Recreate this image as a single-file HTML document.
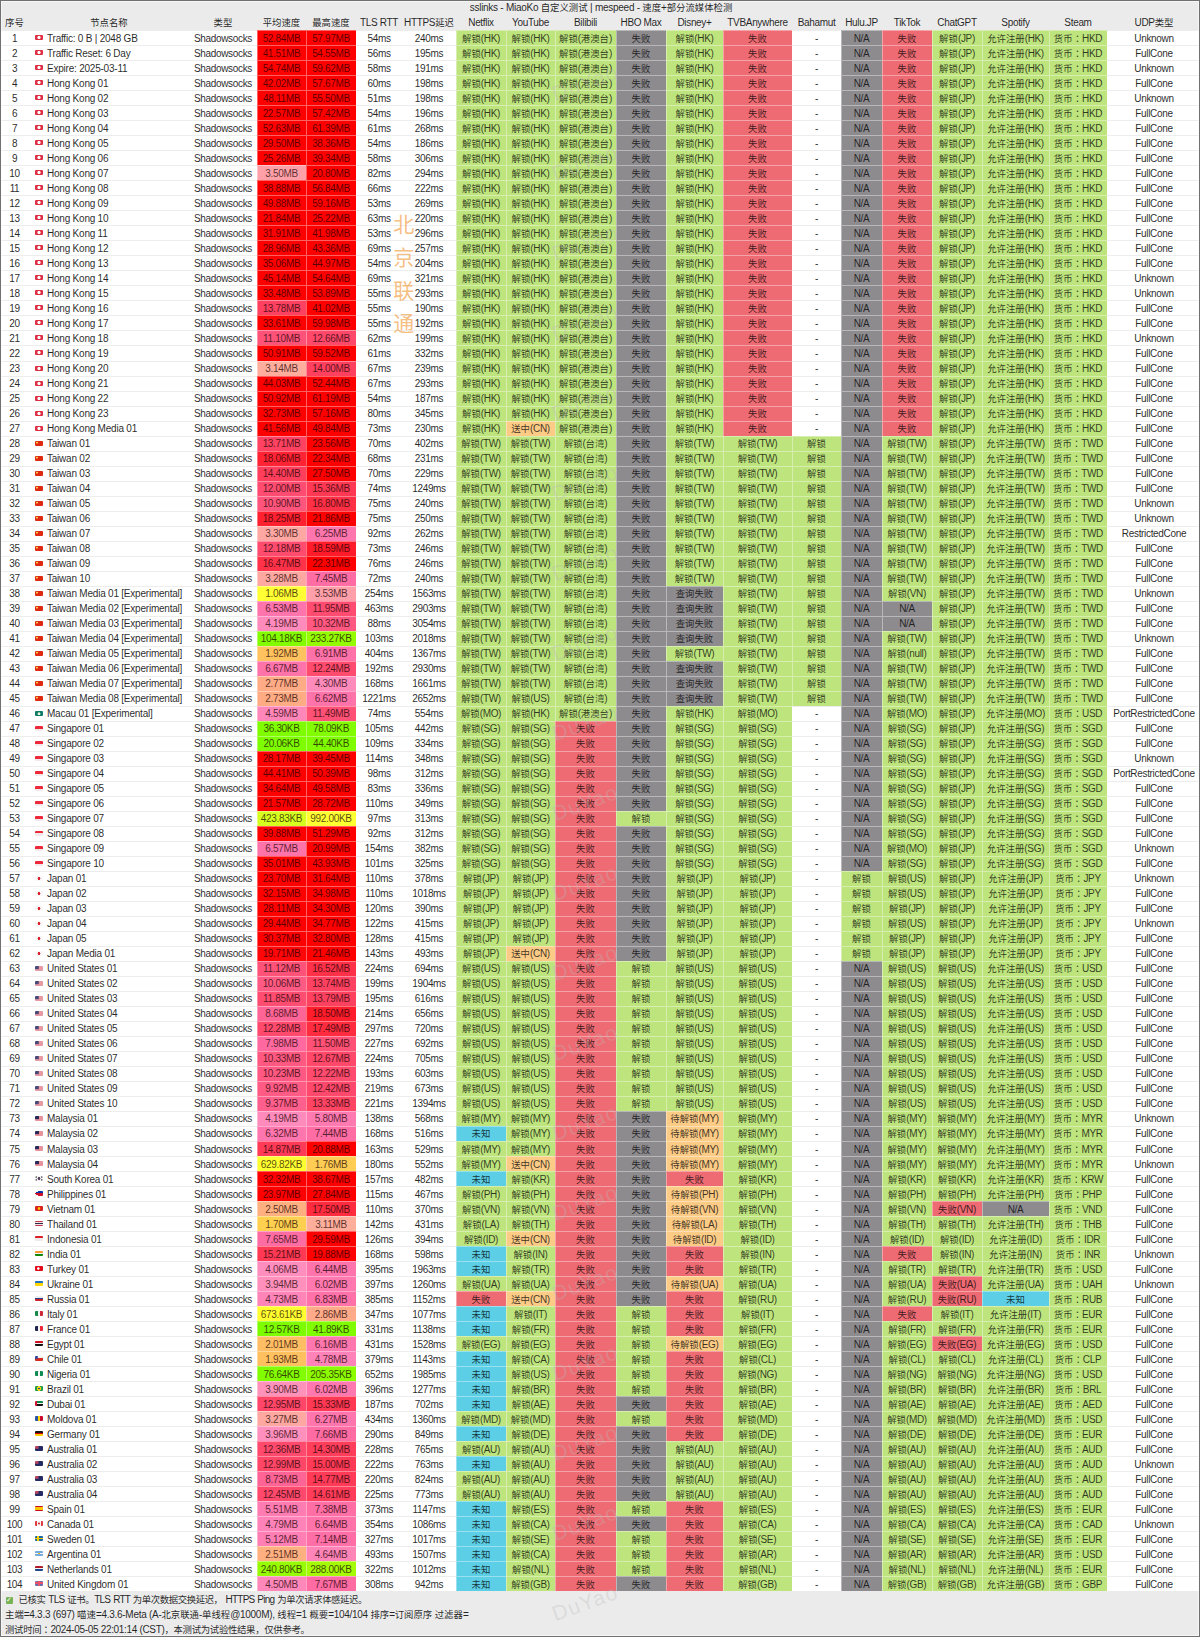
<!DOCTYPE html>
<html lang="zh-CN"><head><meta charset="utf-8"><title>sslinks - MiaoKo</title>
<style>
html,body{margin:0;padding:0}
u{text-decoration:none;font-size:9.4px;letter-spacing:0}
s{text-decoration:none;font-family:"Noto Sans CJK TC","Noto Sans CJK JP",sans-serif}
body{width:1200px;height:1637px;background:#ebebeb;position:relative;overflow:hidden;font-family:"Liberation Sans","Noto Sans CJK SC",sans-serif;font-size:10px;letter-spacing:-.33px;color:rgba(0,0,0,.86);-webkit-font-smoothing:antialiased}
#frame{position:absolute;left:0;top:0;width:1198px;height:1635px;border:1px solid #707070;box-shadow:inset 0 0 0 1px rgba(255,255,255,.55);z-index:9;pointer-events:none}
.t{position:absolute;left:1px;width:1200px;text-align:center;white-space:nowrap;letter-spacing:-.27px}
.r{position:absolute;left:0;width:1200px;background:#fff;white-space:nowrap}
.r i,.hd i{position:absolute;top:0;height:100%;font-style:normal;text-align:center;box-sizing:border-box;overflow:hidden}
.r i{border-top:1px solid #ededed}
.r i.g,.r i.n,.r i.r,.r i.o,.r i.b,.r i.s{border-top:1px solid rgba(255,255,255,.38);box-shadow:inset 1px 0 0 rgba(255,255,255,.38)}
.hd{position:absolute;left:0;width:1200px;white-space:nowrap}
.g{background:#bee47e}.n{background:#8d8b8e}.r i.r{background:#ee6b73}.o{background:#fccb86}.b{background:#5ccfe6}
.r i.g,.r i.n,.r i.r,.r i.o,.r i.b{color:rgba(0,0,0,.76)}.r i.s{color:rgba(20,0,0,.72)}
.nm{text-align:left!important}
.nm em{position:absolute;left:6px;top:3.7px;width:7.5px;height:5.6px;border-radius:1px;font-style:normal;overflow:hidden}
.nm span{position:absolute;left:18px;letter-spacing:-.22px}
.ft{position:absolute;left:5px;white-space:nowrap}


.f-hk{background:radial-gradient(circle at 50% 50%,#fff 0,#fff 1.2px,rgba(255,255,255,0) 2px),#dd2e44}
.f-cn{background:radial-gradient(circle at 24% 32%,#ffcc4d 0,#ffcc4d .6px,rgba(255,204,77,0) 1.3px),#de2910}
.f-mo{background:radial-gradient(circle at 50% 55%,#e8f5d8 0,#e8f5d8 1px,rgba(232,245,216,0) 1.8px),#0f7b68}
.f-sg{background:linear-gradient(#ed2939 50%,#f3e9ea 50%)}
.f-jp{background:radial-gradient(circle at 50% 50%,#d8202f 0,#d8202f 1.1px,rgba(216,32,47,0) 1.7px),#f8f8f8}
.f-us{background:linear-gradient(#4a4a78,#4a4a78) 0 0/3.8px 3.2px no-repeat,#e89aa4}
.f-my{background:linear-gradient(#2a2a58,#2a2a58) 0 0/4px 3.2px no-repeat,#e8929c}
.f-kr{background:radial-gradient(circle at 50% 50%,#5a4060 0,#5a4060 1.1px,rgba(90,64,96,0) 1.8px),radial-gradient(circle at 16% 22%,#777 0,#777 .5px,rgba(119,119,119,0) 1.2px),radial-gradient(circle at 84% 22%,#777 0,#777 .5px,rgba(119,119,119,0) 1.2px),radial-gradient(circle at 16% 78%,#777 0,#777 .5px,rgba(119,119,119,0) 1.2px),radial-gradient(circle at 84% 78%,#777 0,#777 .5px,rgba(119,119,119,0) 1.2px),#f4f4f4}
.f-ph{background:linear-gradient(148deg,#f4f4f4 0,#f4f4f4 24%,rgba(255,255,255,0) 24%),linear-gradient(32deg,#f4f4f4 0,#f4f4f4 24%,rgba(255,255,255,0) 24%),linear-gradient(#0038a8 50%,#ce1126 50%)}
.f-vn{background:radial-gradient(circle,#ffcd00 0,#ffcd00 .9px,rgba(255,205,0,0) 1.6px),#da251d}
.f-th{background:linear-gradient(#c4384f 0,#c4384f 17%,#f2e4e6 17%,#f2e4e6 33%,#2d2a4a 33%,#2d2a4a 67%,#f2e4e6 67%,#f2e4e6 83%,#c4384f 83%)}
.f-id{background:linear-gradient(#dc1f26 50%,#f0eaea 50%)}
.f-in{background:linear-gradient(#f93 33%,#f4f4f4 33%,#f4f4f4 67%,#138808 67%)}
.f-tr{background:radial-gradient(circle at 42% 50%,#fff 0,#fff .9px,rgba(255,255,255,0) 1.6px),#e30a17}
.f-ua{background:linear-gradient(#1f6fc5 50%,#ffd500 50%)}
.f-ru{background:linear-gradient(#eee 33%,#22408c 33%,#22408c 67%,#ce2028 67%)}
.f-it{background:linear-gradient(90deg,#178a4a 33%,#f4f4f4 33%,#f4f4f4 67%,#ce2b37 67%)}
.f-fr{background:linear-gradient(90deg,#20264d 33%,#f4f4f4 33%,#f4f4f4 67%,#ed2939 67%)}
.f-eg{background:linear-gradient(#ce1126 33%,#f4f4f4 33%,#f4f4f4 67%,#141414 67%)}
.f-cl{background:linear-gradient(#2a47a0,#2a47a0) 0 0/2.8px 2.8px no-repeat,linear-gradient(#f2f2f2 50%,#d52b1e 50%)}
.f-ng{background:linear-gradient(90deg,#128a54 33%,#f4f4f4 33%,#f4f4f4 67%,#128a54 67%)}
.f-br{background:radial-gradient(circle,#2a3f8f 0,#2a3f8f .8px,#f7d417 .9px,#f7d417 2.1px,rgba(247,212,23,0) 2.5px),#229e45}
.f-ae{background:linear-gradient(#d21034,#d21034) 0 0/2px 100% no-repeat,linear-gradient(#0b8a43 33%,#f4f4f4 33%,#f4f4f4 67%,#141414 67%)}
.f-md{background:linear-gradient(90deg,#2a55a5 33%,#ffd200 33%,#ffd200 67%,#cc092f 67%)}
.f-de{background:linear-gradient(#141414 33%,#d00 33%,#d00 67%,#ffce00 67%)}
.f-au{background:linear-gradient(#b5435e,#b5435e) 0 0/3.5px 2.8px no-repeat,#232a64}
.f-es{background:linear-gradient(#c60b1e 25%,#ffc400 25%,#ffc400 75%,#c60b1e 75%)}
.f-ca{background:radial-gradient(circle,#e03a3e 0,#e03a3e .8px,rgba(224,58,62,0) 1.3px),linear-gradient(90deg,#e03a3e 27%,#f4f4f4 27%,#f4f4f4 73%,#e03a3e 73%)}
.f-se{background:linear-gradient(90deg,rgba(0,0,0,0) 30%,#fecc00 30%,#fecc00 48%,rgba(0,0,0,0) 48%),linear-gradient(rgba(0,0,0,0) 38%,#fecc00 38%,#fecc00 62%,rgba(0,0,0,0) 62%),#1b6aa5}
.f-ar{background:radial-gradient(circle,#f6b40e 0,#f6b40e .5px,rgba(246,180,14,0) 1px),linear-gradient(#74acdf 33%,#f4f4f4 33%,#f4f4f4 67%,#74acdf 67%)}
.f-nl{background:linear-gradient(#ae1c28 33%,#f4f4f4 33%,#f4f4f4 67%,#21468b 67%)}
.f-gb{background:linear-gradient(90deg,rgba(0,0,0,0) 34%,#e8536a 34%,#e8536a 66%,rgba(0,0,0,0) 66%),linear-gradient(rgba(0,0,0,0) 30%,#e8536a 30%,#e8536a 70%,rgba(0,0,0,0) 70%),#6a6fae}
.wm{position:absolute;font-size:21px;color:rgba(185,185,185,.33);transform:rotate(-20deg);transform-origin:0 100%;white-space:nowrap;z-index:5;letter-spacing:1.2px}
.ck{display:inline-block;width:7px;height:7px;line-height:7px;font-size:7px;font-weight:normal;letter-spacing:0;background:#77b255;color:#fff;border-radius:1px;text-align:center;font-family:'DejaVu Sans',sans-serif;vertical-align:0;margin:0 6px 0 .5px;position:relative;top:-1.5px}
#f1{letter-spacing:-.74px;word-spacing:.8px}#f2{letter-spacing:-.28px}#f1 u{letter-spacing:-.4px}#f3 u{letter-spacing:-.3px}
.bj{position:absolute;left:393px;top:208px;width:21px;font-size:21px;line-height:33px;color:rgba(240,150,50,.62);z-index:6;text-align:center}

.c0{left:0.0px;width:29.0px}
.c1{left:29.0px;width:160.0px}
.c2{left:189.0px;width:68.0px}
.c3{left:257.0px;width:49.0px}
.c4{left:306.0px;width:50.0px}
.c5{left:356.0px;width:46.0px}
.c6{left:402.0px;width:54.0px}
.c7{left:456.0px;width:50.0px}
.c8{left:506.0px;width:49.0px}
.c9{left:555.0px;width:61.0px}
.c10{left:616.0px;width:50.0px}
.c11{left:666.0px;width:57.0px}
.c12{left:723.0px;width:69.0px}
.c13{left:792.0px;width:49.0px}
.c14{left:841.0px;width:41.0px}
.c15{left:882.0px;width:50.0px}
.c16{left:932.0px;width:50.0px}
.c17{left:982.0px;width:67.0px}
.c18{left:1049.0px;width:58.0px}
.c19{left:1107.0px;width:94.0px}
</style></head><body>
<div id="frame"></div>
<div class="t" style="top:0;height:15px;line-height:15px">sslinks - MiaoKo <u>自定义测试</u> | mespeed - <u>速度</u>+<u>部分流媒体检测</u></div>
<div class="hd" style="top:15px;height:15px;line-height:16px"><i class="c0"><u>序号</u></i><i class="c1"><u>节点名称</u></i><i class="c2"><u>类型</u></i><i class="c3"><u>平均速度</u></i><i class="c4"><u>最高速度</u></i><i class="c5">TLS RTT</i><i class="c6">HTTPS<u>延迟</u></i><i class="c7">Netflix</i><i class="c8">YouTube</i><i class="c9">Bilibili</i><i class="c10">HBO Max</i><i class="c11">Disney+</i><i class="c12">TVBAnywhere</i><i class="c13">Bahamut</i><i class="c14">Hulu.JP</i><i class="c15">TikTok</i><i class="c16">ChatGPT</i><i class="c17">Spotify</i><i class="c18">Steam</i><i class="c19">UDP<u>类型</u></i></div>
<div class="r" style="top:30px;height:15px;line-height:15px"><i class="c0">1</i><i class="c1 nm"><em class="f-hk"></em><span>Traffic: 0 B | 2048 GB</span></i><i class="c2">Shadowsocks</i><i class="c3 s" style="background:#ff0000">52.84MB</i><i class="c4 s" style="background:#ff0000">57.97MB</i><i class="c5">54ms</i><i class="c6">240ms</i><i class="c7 g"><u>解锁</u>(HK)</i><i class="c8 g"><u>解锁</u>(HK)</i><i class="c9 g"><u>解锁</u>(<u>港澳台</u>)</i><i class="c10 n"><u>失败</u></i><i class="c11 g"><u>解锁</u>(HK)</i><i class="c12 r"><u>失败</u></i><i class="c13">-</i><i class="c14 n">N/A</i><i class="c15 r"><u>失败</u></i><i class="c16 g"><u>解锁</u>(JP)</i><i class="c17 g"><u>允许注册</u>(HK)</i><i class="c18 g"><u>货币<s lang="zh-TW">：</s></u>HKD</i><i class="c19">Unknown</i></div>
<div class="r" style="top:45px;height:15px;line-height:15px"><i class="c0">2</i><i class="c1 nm"><em class="f-hk"></em><span>Traffic Reset: 6 Day</span></i><i class="c2">Shadowsocks</i><i class="c3 s" style="background:#ff0000">41.51MB</i><i class="c4 s" style="background:#ff0000">54.55MB</i><i class="c5">56ms</i><i class="c6">195ms</i><i class="c7 g"><u>解锁</u>(HK)</i><i class="c8 g"><u>解锁</u>(HK)</i><i class="c9 g"><u>解锁</u>(<u>港澳台</u>)</i><i class="c10 n"><u>失败</u></i><i class="c11 g"><u>解锁</u>(HK)</i><i class="c12 r"><u>失败</u></i><i class="c13">-</i><i class="c14 n">N/A</i><i class="c15 r"><u>失败</u></i><i class="c16 g"><u>解锁</u>(JP)</i><i class="c17 g"><u>允许注册</u>(HK)</i><i class="c18 g"><u>货币<s lang="zh-TW">：</s></u>HKD</i><i class="c19">FullCone</i></div>
<div class="r" style="top:60px;height:15px;line-height:15px"><i class="c0">3</i><i class="c1 nm"><em class="f-hk"></em><span>Expire: 2025-03-11</span></i><i class="c2">Shadowsocks</i><i class="c3 s" style="background:#ff0000">54.74MB</i><i class="c4 s" style="background:#ff0000">59.62MB</i><i class="c5">58ms</i><i class="c6">191ms</i><i class="c7 g"><u>解锁</u>(HK)</i><i class="c8 g"><u>解锁</u>(HK)</i><i class="c9 g"><u>解锁</u>(<u>港澳台</u>)</i><i class="c10 n"><u>失败</u></i><i class="c11 g"><u>解锁</u>(HK)</i><i class="c12 r"><u>失败</u></i><i class="c13">-</i><i class="c14 n">N/A</i><i class="c15 r"><u>失败</u></i><i class="c16 g"><u>解锁</u>(JP)</i><i class="c17 g"><u>允许注册</u>(HK)</i><i class="c18 g"><u>货币<s lang="zh-TW">：</s></u>HKD</i><i class="c19">Unknown</i></div>
<div class="r" style="top:75px;height:15px;line-height:15px"><i class="c0">4</i><i class="c1 nm"><em class="f-hk"></em><span>Hong Kong 01</span></i><i class="c2">Shadowsocks</i><i class="c3 s" style="background:#ff0000">42.02MB</i><i class="c4 s" style="background:#ff0000">57.67MB</i><i class="c5">60ms</i><i class="c6">198ms</i><i class="c7 g"><u>解锁</u>(HK)</i><i class="c8 g"><u>解锁</u>(HK)</i><i class="c9 g"><u>解锁</u>(<u>港澳台</u>)</i><i class="c10 n"><u>失败</u></i><i class="c11 g"><u>解锁</u>(HK)</i><i class="c12 r"><u>失败</u></i><i class="c13">-</i><i class="c14 n">N/A</i><i class="c15 r"><u>失败</u></i><i class="c16 g"><u>解锁</u>(JP)</i><i class="c17 g"><u>允许注册</u>(HK)</i><i class="c18 g"><u>货币<s lang="zh-TW">：</s></u>HKD</i><i class="c19">FullCone</i></div>
<div class="r" style="top:90px;height:15px;line-height:15px"><i class="c0">5</i><i class="c1 nm"><em class="f-hk"></em><span>Hong Kong 02</span></i><i class="c2">Shadowsocks</i><i class="c3 s" style="background:#ff0000">48.11MB</i><i class="c4 s" style="background:#ff0000">55.50MB</i><i class="c5">51ms</i><i class="c6">198ms</i><i class="c7 g"><u>解锁</u>(HK)</i><i class="c8 g"><u>解锁</u>(HK)</i><i class="c9 g"><u>解锁</u>(<u>港澳台</u>)</i><i class="c10 n"><u>失败</u></i><i class="c11 g"><u>解锁</u>(HK)</i><i class="c12 r"><u>失败</u></i><i class="c13">-</i><i class="c14 n">N/A</i><i class="c15 r"><u>失败</u></i><i class="c16 g"><u>解锁</u>(JP)</i><i class="c17 g"><u>允许注册</u>(HK)</i><i class="c18 g"><u>货币<s lang="zh-TW">：</s></u>HKD</i><i class="c19">Unknown</i></div>
<div class="r" style="top:105px;height:15px;line-height:15px"><i class="c0">6</i><i class="c1 nm"><em class="f-hk"></em><span>Hong Kong 03</span></i><i class="c2">Shadowsocks</i><i class="c3 s" style="background:#ff0000">22.57MB</i><i class="c4 s" style="background:#ff0000">57.42MB</i><i class="c5">54ms</i><i class="c6">196ms</i><i class="c7 g"><u>解锁</u>(HK)</i><i class="c8 g"><u>解锁</u>(HK)</i><i class="c9 g"><u>解锁</u>(<u>港澳台</u>)</i><i class="c10 n"><u>失败</u></i><i class="c11 g"><u>解锁</u>(HK)</i><i class="c12 r"><u>失败</u></i><i class="c13">-</i><i class="c14 n">N/A</i><i class="c15 r"><u>失败</u></i><i class="c16 g"><u>解锁</u>(JP)</i><i class="c17 g"><u>允许注册</u>(HK)</i><i class="c18 g"><u>货币<s lang="zh-TW">：</s></u>HKD</i><i class="c19">FullCone</i></div>
<div class="r" style="top:120px;height:15px;line-height:15px"><i class="c0">7</i><i class="c1 nm"><em class="f-hk"></em><span>Hong Kong 04</span></i><i class="c2">Shadowsocks</i><i class="c3 s" style="background:#ff0000">52.63MB</i><i class="c4 s" style="background:#ff0000">61.39MB</i><i class="c5">61ms</i><i class="c6">268ms</i><i class="c7 g"><u>解锁</u>(HK)</i><i class="c8 g"><u>解锁</u>(HK)</i><i class="c9 g"><u>解锁</u>(<u>港澳台</u>)</i><i class="c10 n"><u>失败</u></i><i class="c11 g"><u>解锁</u>(HK)</i><i class="c12 r"><u>失败</u></i><i class="c13">-</i><i class="c14 n">N/A</i><i class="c15 r"><u>失败</u></i><i class="c16 g"><u>解锁</u>(JP)</i><i class="c17 g"><u>允许注册</u>(HK)</i><i class="c18 g"><u>货币<s lang="zh-TW">：</s></u>HKD</i><i class="c19">FullCone</i></div>
<div class="r" style="top:135px;height:15px;line-height:15px"><i class="c0">8</i><i class="c1 nm"><em class="f-hk"></em><span>Hong Kong 05</span></i><i class="c2">Shadowsocks</i><i class="c3 s" style="background:#ff0000">29.50MB</i><i class="c4 s" style="background:#ff0000">38.36MB</i><i class="c5">54ms</i><i class="c6">186ms</i><i class="c7 g"><u>解锁</u>(HK)</i><i class="c8 g"><u>解锁</u>(HK)</i><i class="c9 g"><u>解锁</u>(<u>港澳台</u>)</i><i class="c10 n"><u>失败</u></i><i class="c11 g"><u>解锁</u>(HK)</i><i class="c12 r"><u>失败</u></i><i class="c13">-</i><i class="c14 n">N/A</i><i class="c15 r"><u>失败</u></i><i class="c16 g"><u>解锁</u>(JP)</i><i class="c17 g"><u>允许注册</u>(HK)</i><i class="c18 g"><u>货币<s lang="zh-TW">：</s></u>HKD</i><i class="c19">FullCone</i></div>
<div class="r" style="top:150px;height:15px;line-height:15px"><i class="c0">9</i><i class="c1 nm"><em class="f-hk"></em><span>Hong Kong 06</span></i><i class="c2">Shadowsocks</i><i class="c3 s" style="background:#ff0000">25.26MB</i><i class="c4 s" style="background:#ff0000">39.34MB</i><i class="c5">58ms</i><i class="c6">306ms</i><i class="c7 g"><u>解锁</u>(HK)</i><i class="c8 g"><u>解锁</u>(HK)</i><i class="c9 g"><u>解锁</u>(<u>港澳台</u>)</i><i class="c10 n"><u>失败</u></i><i class="c11 g"><u>解锁</u>(HK)</i><i class="c12 r"><u>失败</u></i><i class="c13">-</i><i class="c14 n">N/A</i><i class="c15 r"><u>失败</u></i><i class="c16 g"><u>解锁</u>(JP)</i><i class="c17 g"><u>允许注册</u>(HK)</i><i class="c18 g"><u>货币<s lang="zh-TW">：</s></u>HKD</i><i class="c19">FullCone</i></div>
<div class="r" style="top:165px;height:15px;line-height:15px"><i class="c0">10</i><i class="c1 nm"><em class="f-hk"></em><span>Hong Kong 07</span></i><i class="c2">Shadowsocks</i><i class="c3 s" style="background:#ffa0a8">3.50MB</i><i class="c4 s" style="background:#ff0000">20.80MB</i><i class="c5">82ms</i><i class="c6">294ms</i><i class="c7 g"><u>解锁</u>(HK)</i><i class="c8 g"><u>解锁</u>(HK)</i><i class="c9 g"><u>解锁</u>(<u>港澳台</u>)</i><i class="c10 n"><u>失败</u></i><i class="c11 g"><u>解锁</u>(HK)</i><i class="c12 r"><u>失败</u></i><i class="c13">-</i><i class="c14 n">N/A</i><i class="c15 r"><u>失败</u></i><i class="c16 g"><u>解锁</u>(JP)</i><i class="c17 g"><u>允许注册</u>(HK)</i><i class="c18 g"><u>货币<s lang="zh-TW">：</s></u>HKD</i><i class="c19">FullCone</i></div>
<div class="r" style="top:180px;height:15px;line-height:15px"><i class="c0">11</i><i class="c1 nm"><em class="f-hk"></em><span>Hong Kong 08</span></i><i class="c2">Shadowsocks</i><i class="c3 s" style="background:#ff0000">38.88MB</i><i class="c4 s" style="background:#ff0000">56.84MB</i><i class="c5">66ms</i><i class="c6">222ms</i><i class="c7 g"><u>解锁</u>(HK)</i><i class="c8 g"><u>解锁</u>(HK)</i><i class="c9 g"><u>解锁</u>(<u>港澳台</u>)</i><i class="c10 n"><u>失败</u></i><i class="c11 g"><u>解锁</u>(HK)</i><i class="c12 r"><u>失败</u></i><i class="c13">-</i><i class="c14 n">N/A</i><i class="c15 r"><u>失败</u></i><i class="c16 g"><u>解锁</u>(JP)</i><i class="c17 g"><u>允许注册</u>(HK)</i><i class="c18 g"><u>货币<s lang="zh-TW">：</s></u>HKD</i><i class="c19">FullCone</i></div>
<div class="r" style="top:195px;height:15px;line-height:15px"><i class="c0">12</i><i class="c1 nm"><em class="f-hk"></em><span>Hong Kong 09</span></i><i class="c2">Shadowsocks</i><i class="c3 s" style="background:#ff0000">49.88MB</i><i class="c4 s" style="background:#ff0000">59.16MB</i><i class="c5">53ms</i><i class="c6">269ms</i><i class="c7 g"><u>解锁</u>(HK)</i><i class="c8 g"><u>解锁</u>(HK)</i><i class="c9 g"><u>解锁</u>(<u>港澳台</u>)</i><i class="c10 n"><u>失败</u></i><i class="c11 g"><u>解锁</u>(HK)</i><i class="c12 r"><u>失败</u></i><i class="c13">-</i><i class="c14 n">N/A</i><i class="c15 r"><u>失败</u></i><i class="c16 g"><u>解锁</u>(JP)</i><i class="c17 g"><u>允许注册</u>(HK)</i><i class="c18 g"><u>货币<s lang="zh-TW">：</s></u>HKD</i><i class="c19">FullCone</i></div>
<div class="r" style="top:210px;height:15px;line-height:15px"><i class="c0">13</i><i class="c1 nm"><em class="f-hk"></em><span>Hong Kong 10</span></i><i class="c2">Shadowsocks</i><i class="c3 s" style="background:#ff0000">21.84MB</i><i class="c4 s" style="background:#ff0000">25.22MB</i><i class="c5">63ms</i><i class="c6">220ms</i><i class="c7 g"><u>解锁</u>(HK)</i><i class="c8 g"><u>解锁</u>(HK)</i><i class="c9 g"><u>解锁</u>(<u>港澳台</u>)</i><i class="c10 n"><u>失败</u></i><i class="c11 g"><u>解锁</u>(HK)</i><i class="c12 r"><u>失败</u></i><i class="c13">-</i><i class="c14 n">N/A</i><i class="c15 r"><u>失败</u></i><i class="c16 g"><u>解锁</u>(JP)</i><i class="c17 g"><u>允许注册</u>(HK)</i><i class="c18 g"><u>货币<s lang="zh-TW">：</s></u>HKD</i><i class="c19">FullCone</i></div>
<div class="r" style="top:225px;height:15px;line-height:15px"><i class="c0">14</i><i class="c1 nm"><em class="f-hk"></em><span>Hong Kong 11</span></i><i class="c2">Shadowsocks</i><i class="c3 s" style="background:#ff0000">31.91MB</i><i class="c4 s" style="background:#ff0000">41.98MB</i><i class="c5">53ms</i><i class="c6">296ms</i><i class="c7 g"><u>解锁</u>(HK)</i><i class="c8 g"><u>解锁</u>(HK)</i><i class="c9 g"><u>解锁</u>(<u>港澳台</u>)</i><i class="c10 n"><u>失败</u></i><i class="c11 g"><u>解锁</u>(HK)</i><i class="c12 r"><u>失败</u></i><i class="c13">-</i><i class="c14 n">N/A</i><i class="c15 r"><u>失败</u></i><i class="c16 g"><u>解锁</u>(JP)</i><i class="c17 g"><u>允许注册</u>(HK)</i><i class="c18 g"><u>货币<s lang="zh-TW">：</s></u>HKD</i><i class="c19">FullCone</i></div>
<div class="r" style="top:240px;height:15px;line-height:15px"><i class="c0">15</i><i class="c1 nm"><em class="f-hk"></em><span>Hong Kong 12</span></i><i class="c2">Shadowsocks</i><i class="c3 s" style="background:#ff0000">28.96MB</i><i class="c4 s" style="background:#ff0000">43.36MB</i><i class="c5">69ms</i><i class="c6">257ms</i><i class="c7 g"><u>解锁</u>(HK)</i><i class="c8 g"><u>解锁</u>(HK)</i><i class="c9 g"><u>解锁</u>(<u>港澳台</u>)</i><i class="c10 n"><u>失败</u></i><i class="c11 g"><u>解锁</u>(HK)</i><i class="c12 r"><u>失败</u></i><i class="c13">-</i><i class="c14 n">N/A</i><i class="c15 r"><u>失败</u></i><i class="c16 g"><u>解锁</u>(JP)</i><i class="c17 g"><u>允许注册</u>(HK)</i><i class="c18 g"><u>货币<s lang="zh-TW">：</s></u>HKD</i><i class="c19">FullCone</i></div>
<div class="r" style="top:255px;height:15px;line-height:15px"><i class="c0">16</i><i class="c1 nm"><em class="f-hk"></em><span>Hong Kong 13</span></i><i class="c2">Shadowsocks</i><i class="c3 s" style="background:#ff0000">35.06MB</i><i class="c4 s" style="background:#ff0000">44.97MB</i><i class="c5">54ms</i><i class="c6">204ms</i><i class="c7 g"><u>解锁</u>(HK)</i><i class="c8 g"><u>解锁</u>(HK)</i><i class="c9 g"><u>解锁</u>(<u>港澳台</u>)</i><i class="c10 n"><u>失败</u></i><i class="c11 g"><u>解锁</u>(HK)</i><i class="c12 r"><u>失败</u></i><i class="c13">-</i><i class="c14 n">N/A</i><i class="c15 r"><u>失败</u></i><i class="c16 g"><u>解锁</u>(JP)</i><i class="c17 g"><u>允许注册</u>(HK)</i><i class="c18 g"><u>货币<s lang="zh-TW">：</s></u>HKD</i><i class="c19">FullCone</i></div>
<div class="r" style="top:270px;height:15px;line-height:15px"><i class="c0">17</i><i class="c1 nm"><em class="f-hk"></em><span>Hong Kong 14</span></i><i class="c2">Shadowsocks</i><i class="c3 s" style="background:#ff0000">45.14MB</i><i class="c4 s" style="background:#ff0000">54.64MB</i><i class="c5">69ms</i><i class="c6">321ms</i><i class="c7 g"><u>解锁</u>(HK)</i><i class="c8 g"><u>解锁</u>(HK)</i><i class="c9 g"><u>解锁</u>(<u>港澳台</u>)</i><i class="c10 n"><u>失败</u></i><i class="c11 g"><u>解锁</u>(HK)</i><i class="c12 r"><u>失败</u></i><i class="c13">-</i><i class="c14 n">N/A</i><i class="c15 r"><u>失败</u></i><i class="c16 g"><u>解锁</u>(JP)</i><i class="c17 g"><u>允许注册</u>(HK)</i><i class="c18 g"><u>货币<s lang="zh-TW">：</s></u>HKD</i><i class="c19">Unknown</i></div>
<div class="r" style="top:285px;height:15px;line-height:15px"><i class="c0">18</i><i class="c1 nm"><em class="f-hk"></em><span>Hong Kong 15</span></i><i class="c2">Shadowsocks</i><i class="c3 s" style="background:#ff0000">33.48MB</i><i class="c4 s" style="background:#ff0000">53.89MB</i><i class="c5">55ms</i><i class="c6">293ms</i><i class="c7 g"><u>解锁</u>(HK)</i><i class="c8 g"><u>解锁</u>(HK)</i><i class="c9 g"><u>解锁</u>(<u>港澳台</u>)</i><i class="c10 n"><u>失败</u></i><i class="c11 g"><u>解锁</u>(HK)</i><i class="c12 r"><u>失败</u></i><i class="c13">-</i><i class="c14 n">N/A</i><i class="c15 r"><u>失败</u></i><i class="c16 g"><u>解锁</u>(JP)</i><i class="c17 g"><u>允许注册</u>(HK)</i><i class="c18 g"><u>货币<s lang="zh-TW">：</s></u>HKD</i><i class="c19">Unknown</i></div>
<div class="r" style="top:300px;height:15px;line-height:15px"><i class="c0">19</i><i class="c1 nm"><em class="f-hk"></em><span>Hong Kong 16</span></i><i class="c2">Shadowsocks</i><i class="c3 s" style="background:#ff4161">13.78MB</i><i class="c4 s" style="background:#ff0000">41.02MB</i><i class="c5">55ms</i><i class="c6">190ms</i><i class="c7 g"><u>解锁</u>(HK)</i><i class="c8 g"><u>解锁</u>(HK)</i><i class="c9 g"><u>解锁</u>(<u>港澳台</u>)</i><i class="c10 n"><u>失败</u></i><i class="c11 g"><u>解锁</u>(HK)</i><i class="c12 r"><u>失败</u></i><i class="c13">-</i><i class="c14 n">N/A</i><i class="c15 r"><u>失败</u></i><i class="c16 g"><u>解锁</u>(JP)</i><i class="c17 g"><u>允许注册</u>(HK)</i><i class="c18 g"><u>货币<s lang="zh-TW">：</s></u>HKD</i><i class="c19">FullCone</i></div>
<div class="r" style="top:315px;height:15px;line-height:15px"><i class="c0">20</i><i class="c1 nm"><em class="f-hk"></em><span>Hong Kong 17</span></i><i class="c2">Shadowsocks</i><i class="c3 s" style="background:#ff0000">33.61MB</i><i class="c4 s" style="background:#ff0000">59.98MB</i><i class="c5">55ms</i><i class="c6">192ms</i><i class="c7 g"><u>解锁</u>(HK)</i><i class="c8 g"><u>解锁</u>(HK)</i><i class="c9 g"><u>解锁</u>(<u>港澳台</u>)</i><i class="c10 n"><u>失败</u></i><i class="c11 g"><u>解锁</u>(HK)</i><i class="c12 r"><u>失败</u></i><i class="c13">-</i><i class="c14 n">N/A</i><i class="c15 r"><u>失败</u></i><i class="c16 g"><u>解锁</u>(JP)</i><i class="c17 g"><u>允许注册</u>(HK)</i><i class="c18 g"><u>货币<s lang="zh-TW">：</s></u>HKD</i><i class="c19">FullCone</i></div>
<div class="r" style="top:330px;height:15px;line-height:15px"><i class="c0">21</i><i class="c1 nm"><em class="f-hk"></em><span>Hong Kong 18</span></i><i class="c2">Shadowsocks</i><i class="c3 s" style="background:#ff5279">11.10MB</i><i class="c4 s" style="background:#ff486a">12.66MB</i><i class="c5">62ms</i><i class="c6">199ms</i><i class="c7 g"><u>解锁</u>(HK)</i><i class="c8 g"><u>解锁</u>(HK)</i><i class="c9 g"><u>解锁</u>(<u>港澳台</u>)</i><i class="c10 n"><u>失败</u></i><i class="c11 g"><u>解锁</u>(HK)</i><i class="c12 r"><u>失败</u></i><i class="c13">-</i><i class="c14 n">N/A</i><i class="c15 r"><u>失败</u></i><i class="c16 g"><u>解锁</u>(JP)</i><i class="c17 g"><u>允许注册</u>(HK)</i><i class="c18 g"><u>货币<s lang="zh-TW">：</s></u>HKD</i><i class="c19">Unknown</i></div>
<div class="r" style="top:345px;height:16px;line-height:15px"><i class="c0">22</i><i class="c1 nm"><em class="f-hk"></em><span>Hong Kong 19</span></i><i class="c2">Shadowsocks</i><i class="c3 s" style="background:#ff0000">50.91MB</i><i class="c4 s" style="background:#ff0000">59.52MB</i><i class="c5">61ms</i><i class="c6">332ms</i><i class="c7 g"><u>解锁</u>(HK)</i><i class="c8 g"><u>解锁</u>(HK)</i><i class="c9 g"><u>解锁</u>(<u>港澳台</u>)</i><i class="c10 n"><u>失败</u></i><i class="c11 g"><u>解锁</u>(HK)</i><i class="c12 r"><u>失败</u></i><i class="c13">-</i><i class="c14 n">N/A</i><i class="c15 r"><u>失败</u></i><i class="c16 g"><u>解锁</u>(JP)</i><i class="c17 g"><u>允许注册</u>(HK)</i><i class="c18 g"><u>货币<s lang="zh-TW">：</s></u>HKD</i><i class="c19">FullCone</i></div>
<div class="r" style="top:361px;height:15px;line-height:13px"><i class="c0">23</i><i class="c1 nm"><em class="f-hk"></em><span>Hong Kong 20</span></i><i class="c2">Shadowsocks</i><i class="c3 s" style="background:#ffad9d">3.14MB</i><i class="c4 s" style="background:#ff405f">14.00MB</i><i class="c5">67ms</i><i class="c6">239ms</i><i class="c7 g"><u>解锁</u>(HK)</i><i class="c8 g"><u>解锁</u>(HK)</i><i class="c9 g"><u>解锁</u>(<u>港澳台</u>)</i><i class="c10 n"><u>失败</u></i><i class="c11 g"><u>解锁</u>(HK)</i><i class="c12 r"><u>失败</u></i><i class="c13">-</i><i class="c14 n">N/A</i><i class="c15 r"><u>失败</u></i><i class="c16 g"><u>解锁</u>(JP)</i><i class="c17 g"><u>允许注册</u>(HK)</i><i class="c18 g"><u>货币<s lang="zh-TW">：</s></u>HKD</i><i class="c19">FullCone</i></div>
<div class="r" style="top:376px;height:15px;line-height:13px"><i class="c0">24</i><i class="c1 nm"><em class="f-hk"></em><span>Hong Kong 21</span></i><i class="c2">Shadowsocks</i><i class="c3 s" style="background:#ff0000">44.03MB</i><i class="c4 s" style="background:#ff0000">52.44MB</i><i class="c5">67ms</i><i class="c6">293ms</i><i class="c7 g"><u>解锁</u>(HK)</i><i class="c8 g"><u>解锁</u>(HK)</i><i class="c9 g"><u>解锁</u>(<u>港澳台</u>)</i><i class="c10 n"><u>失败</u></i><i class="c11 g"><u>解锁</u>(HK)</i><i class="c12 r"><u>失败</u></i><i class="c13">-</i><i class="c14 n">N/A</i><i class="c15 r"><u>失败</u></i><i class="c16 g"><u>解锁</u>(JP)</i><i class="c17 g"><u>允许注册</u>(HK)</i><i class="c18 g"><u>货币<s lang="zh-TW">：</s></u>HKD</i><i class="c19">FullCone</i></div>
<div class="r" style="top:391px;height:15px;line-height:13px"><i class="c0">25</i><i class="c1 nm"><em class="f-hk"></em><span>Hong Kong 22</span></i><i class="c2">Shadowsocks</i><i class="c3 s" style="background:#ff0000">50.92MB</i><i class="c4 s" style="background:#ff0000">61.19MB</i><i class="c5">54ms</i><i class="c6">187ms</i><i class="c7 g"><u>解锁</u>(HK)</i><i class="c8 g"><u>解锁</u>(HK)</i><i class="c9 g"><u>解锁</u>(<u>港澳台</u>)</i><i class="c10 n"><u>失败</u></i><i class="c11 g"><u>解锁</u>(HK)</i><i class="c12 r"><u>失败</u></i><i class="c13">-</i><i class="c14 n">N/A</i><i class="c15 r"><u>失败</u></i><i class="c16 g"><u>解锁</u>(JP)</i><i class="c17 g"><u>允许注册</u>(HK)</i><i class="c18 g"><u>货币<s lang="zh-TW">：</s></u>HKD</i><i class="c19">FullCone</i></div>
<div class="r" style="top:406px;height:15px;line-height:13px"><i class="c0">26</i><i class="c1 nm"><em class="f-hk"></em><span>Hong Kong 23</span></i><i class="c2">Shadowsocks</i><i class="c3 s" style="background:#ff0000">32.73MB</i><i class="c4 s" style="background:#ff0000">57.16MB</i><i class="c5">80ms</i><i class="c6">345ms</i><i class="c7 g"><u>解锁</u>(HK)</i><i class="c8 g"><u>解锁</u>(HK)</i><i class="c9 g"><u>解锁</u>(<u>港澳台</u>)</i><i class="c10 n"><u>失败</u></i><i class="c11 g"><u>解锁</u>(HK)</i><i class="c12 r"><u>失败</u></i><i class="c13">-</i><i class="c14 n">N/A</i><i class="c15 r"><u>失败</u></i><i class="c16 g"><u>解锁</u>(JP)</i><i class="c17 g"><u>允许注册</u>(HK)</i><i class="c18 g"><u>货币<s lang="zh-TW">：</s></u>HKD</i><i class="c19">FullCone</i></div>
<div class="r" style="top:421px;height:15px;line-height:13px"><i class="c0">27</i><i class="c1 nm"><em class="f-hk"></em><span>Hong Kong Media 01</span></i><i class="c2">Shadowsocks</i><i class="c3 s" style="background:#ff0000">41.56MB</i><i class="c4 s" style="background:#ff0000">49.84MB</i><i class="c5">73ms</i><i class="c6">230ms</i><i class="c7 g"><u>解锁</u>(HK)</i><i class="c8 o"><u>送中</u>(CN)</i><i class="c9 g"><u>解锁</u>(<u>港澳台</u>)</i><i class="c10 n"><u>失败</u></i><i class="c11 g"><u>解锁</u>(HK)</i><i class="c12 r"><u>失败</u></i><i class="c13">-</i><i class="c14 n">N/A</i><i class="c15 r"><u>失败</u></i><i class="c16 g"><u>解锁</u>(JP)</i><i class="c17 g"><u>允许注册</u>(HK)</i><i class="c18 g"><u>货币<s lang="zh-TW">：</s></u>HKD</i><i class="c19">FullCone</i></div>
<div class="r" style="top:436px;height:15px;line-height:13px"><i class="c0">28</i><i class="c1 nm"><em class="f-cn"></em><span>Taiwan 01</span></i><i class="c2">Shadowsocks</i><i class="c3 s" style="background:#ff4261">13.71MB</i><i class="c4 s" style="background:#ff0000">23.56MB</i><i class="c5">70ms</i><i class="c6">402ms</i><i class="c7 g"><u>解锁</u>(TW)</i><i class="c8 g"><u>解锁</u>(TW)</i><i class="c9 g"><u>解锁</u>(<u>台湾</u>)</i><i class="c10 n"><u>失败</u></i><i class="c11 g"><u>解锁</u>(TW)</i><i class="c12 g"><u>解锁</u>(TW)</i><i class="c13 g"><u>解锁</u></i><i class="c14 n">N/A</i><i class="c15 g"><u>解锁</u>(TW)</i><i class="c16 g"><u>解锁</u>(JP)</i><i class="c17 g"><u>允许注册</u>(TW)</i><i class="c18 g"><u>货币<s lang="zh-TW">：</s></u>TWD</i><i class="c19">FullCone</i></div>
<div class="r" style="top:451px;height:15px;line-height:13px"><i class="c0">29</i><i class="c1 nm"><em class="f-cn"></em><span>Taiwan 02</span></i><i class="c2">Shadowsocks</i><i class="c3 s" style="background:#ff2334">18.06MB</i><i class="c4 s" style="background:#ff0000">22.34MB</i><i class="c5">68ms</i><i class="c6">231ms</i><i class="c7 g"><u>解锁</u>(TW)</i><i class="c8 g"><u>解锁</u>(TW)</i><i class="c9 g"><u>解锁</u>(<u>台湾</u>)</i><i class="c10 n"><u>失败</u></i><i class="c11 g"><u>解锁</u>(TW)</i><i class="c12 g"><u>解锁</u>(TW)</i><i class="c13 g"><u>解锁</u></i><i class="c14 n">N/A</i><i class="c15 g"><u>解锁</u>(TW)</i><i class="c16 g"><u>解锁</u>(JP)</i><i class="c17 g"><u>允许注册</u>(TW)</i><i class="c18 g"><u>货币<s lang="zh-TW">：</s></u>TWD</i><i class="c19">FullCone</i></div>
<div class="r" style="top:466px;height:15px;line-height:13px"><i class="c0">30</i><i class="c1 nm"><em class="f-cn"></em><span>Taiwan 03</span></i><i class="c2">Shadowsocks</i><i class="c3 s" style="background:#ff3e5b">14.40MB</i><i class="c4 s" style="background:#ff0000">27.50MB</i><i class="c5">70ms</i><i class="c6">229ms</i><i class="c7 g"><u>解锁</u>(TW)</i><i class="c8 g"><u>解锁</u>(TW)</i><i class="c9 g"><u>解锁</u>(<u>台湾</u>)</i><i class="c10 n"><u>失败</u></i><i class="c11 g"><u>解锁</u>(TW)</i><i class="c12 g"><u>解锁</u>(TW)</i><i class="c13 g"><u>解锁</u></i><i class="c14 n">N/A</i><i class="c15 g"><u>解锁</u>(TW)</i><i class="c16 g"><u>解锁</u>(JP)</i><i class="c17 g"><u>允许注册</u>(TW)</i><i class="c18 g"><u>货币<s lang="zh-TW">：</s></u>TWD</i><i class="c19">FullCone</i></div>
<div class="r" style="top:481px;height:15px;line-height:13px"><i class="c0">31</i><i class="c1 nm"><em class="f-cn"></em><span>Taiwan 04</span></i><i class="c2">Shadowsocks</i><i class="c3 s" style="background:#ff4c70">12.00MB</i><i class="c4 s" style="background:#ff3853">15.36MB</i><i class="c5">74ms</i><i class="c6">1249ms</i><i class="c7 g"><u>解锁</u>(TW)</i><i class="c8 g"><u>解锁</u>(TW)</i><i class="c9 g"><u>解锁</u>(<u>台湾</u>)</i><i class="c10 n"><u>失败</u></i><i class="c11 g"><u>解锁</u>(TW)</i><i class="c12 g"><u>解锁</u>(TW)</i><i class="c13 g"><u>解锁</u></i><i class="c14 n">N/A</i><i class="c15 g"><u>解锁</u>(TW)</i><i class="c16 g"><u>解锁</u>(JP)</i><i class="c17 g"><u>允许注册</u>(TW)</i><i class="c18 g"><u>货币<s lang="zh-TW">：</s></u>TWD</i><i class="c19">FullCone</i></div>
<div class="r" style="top:496px;height:15px;line-height:13px"><i class="c0">32</i><i class="c1 nm"><em class="f-cn"></em><span>Taiwan 05</span></i><i class="c2">Shadowsocks</i><i class="c3 s" style="background:#ff547b">10.90MB</i><i class="c4 s" style="background:#ff3046">16.80MB</i><i class="c5">75ms</i><i class="c6">240ms</i><i class="c7 g"><u>解锁</u>(TW)</i><i class="c8 g"><u>解锁</u>(TW)</i><i class="c9 g"><u>解锁</u>(<u>台湾</u>)</i><i class="c10 n"><u>失败</u></i><i class="c11 g"><u>解锁</u>(TW)</i><i class="c12 g"><u>解锁</u>(TW)</i><i class="c13 g"><u>解锁</u></i><i class="c14 n">N/A</i><i class="c15 g"><u>解锁</u>(TW)</i><i class="c16 g"><u>解锁</u>(JP)</i><i class="c17 g"><u>允许注册</u>(TW)</i><i class="c18 g"><u>货币<s lang="zh-TW">：</s></u>TWD</i><i class="c19">Unknown</i></div>
<div class="r" style="top:511px;height:15px;line-height:13px"><i class="c0">33</i><i class="c1 nm"><em class="f-cn"></em><span>Taiwan 06</span></i><i class="c2">Shadowsocks</i><i class="c3 s" style="background:#ff2030">18.25MB</i><i class="c4 s" style="background:#ff0000">21.86MB</i><i class="c5">75ms</i><i class="c6">250ms</i><i class="c7 g"><u>解锁</u>(TW)</i><i class="c8 g"><u>解锁</u>(TW)</i><i class="c9 g"><u>解锁</u>(<u>台湾</u>)</i><i class="c10 n"><u>失败</u></i><i class="c11 g"><u>解锁</u>(TW)</i><i class="c12 g"><u>解锁</u>(TW)</i><i class="c13 g"><u>解锁</u></i><i class="c14 n">N/A</i><i class="c15 g"><u>解锁</u>(TW)</i><i class="c16 g"><u>解锁</u>(JP)</i><i class="c17 g"><u>允许注册</u>(TW)</i><i class="c18 g"><u>货币<s lang="zh-TW">：</s></u>TWD</i><i class="c19">Unknown</i></div>
<div class="r" style="top:526px;height:15px;line-height:13px"><i class="c0">34</i><i class="c1 nm"><em class="f-cn"></em><span>Taiwan 07</span></i><i class="c2">Shadowsocks</i><i class="c3 s" style="background:#ffa7a2">3.30MB</i><i class="c4 s" style="background:#ff76ae">6.25MB</i><i class="c5">92ms</i><i class="c6">262ms</i><i class="c7 g"><u>解锁</u>(TW)</i><i class="c8 g"><u>解锁</u>(TW)</i><i class="c9 g"><u>解锁</u>(<u>台湾</u>)</i><i class="c10 n"><u>失败</u></i><i class="c11 g"><u>解锁</u>(TW)</i><i class="c12 g"><u>解锁</u>(TW)</i><i class="c13 g"><u>解锁</u></i><i class="c14 n">N/A</i><i class="c15 g"><u>解锁</u>(TW)</i><i class="c16 g"><u>解锁</u>(JP)</i><i class="c17 g"><u>允许注册</u>(TW)</i><i class="c18 g"><u>货币<s lang="zh-TW">：</s></u>TWD</i><i class="c19">RestrictedCone</i></div>
<div class="r" style="top:541px;height:15px;line-height:13px"><i class="c0">35</i><i class="c1 nm"><em class="f-cn"></em><span>Taiwan 08</span></i><i class="c2">Shadowsocks</i><i class="c3 s" style="background:#ff4b6e">12.18MB</i><i class="c4 s" style="background:#ff1b29">18.59MB</i><i class="c5">73ms</i><i class="c6">246ms</i><i class="c7 g"><u>解锁</u>(TW)</i><i class="c8 g"><u>解锁</u>(TW)</i><i class="c9 g"><u>解锁</u>(<u>台湾</u>)</i><i class="c10 n"><u>失败</u></i><i class="c11 g"><u>解锁</u>(TW)</i><i class="c12 g"><u>解锁</u>(TW)</i><i class="c13 g"><u>解锁</u></i><i class="c14 n">N/A</i><i class="c15 g"><u>解锁</u>(TW)</i><i class="c16 g"><u>解锁</u>(JP)</i><i class="c17 g"><u>允许注册</u>(TW)</i><i class="c18 g"><u>货币<s lang="zh-TW">：</s></u>TWD</i><i class="c19">FullCone</i></div>
<div class="r" style="top:556px;height:15px;line-height:13px"><i class="c0">36</i><i class="c1 nm"><em class="f-cn"></em><span>Taiwan 09</span></i><i class="c2">Shadowsocks</i><i class="c3 s" style="background:#ff3249">16.47MB</i><i class="c4 s" style="background:#ff0000">22.31MB</i><i class="c5">76ms</i><i class="c6">246ms</i><i class="c7 g"><u>解锁</u>(TW)</i><i class="c8 g"><u>解锁</u>(TW)</i><i class="c9 g"><u>解锁</u>(<u>台湾</u>)</i><i class="c10 n"><u>失败</u></i><i class="c11 g"><u>解锁</u>(TW)</i><i class="c12 g"><u>解锁</u>(TW)</i><i class="c13 g"><u>解锁</u></i><i class="c14 n">N/A</i><i class="c15 g"><u>解锁</u>(TW)</i><i class="c16 g"><u>解锁</u>(JP)</i><i class="c17 g"><u>允许注册</u>(TW)</i><i class="c18 g"><u>货币<s lang="zh-TW">：</s></u>TWD</i><i class="c19">FullCone</i></div>
<div class="r" style="top:571px;height:15px;line-height:13px"><i class="c0">37</i><i class="c1 nm"><em class="f-cn"></em><span>Taiwan 10</span></i><i class="c2">Shadowsocks</i><i class="c3 s" style="background:#ffa8a1">3.28MB</i><i class="c4 s" style="background:#ff6da4">7.45MB</i><i class="c5">72ms</i><i class="c6">240ms</i><i class="c7 g"><u>解锁</u>(TW)</i><i class="c8 g"><u>解锁</u>(TW)</i><i class="c9 g"><u>解锁</u>(<u>台湾</u>)</i><i class="c10 n"><u>失败</u></i><i class="c11 g"><u>解锁</u>(TW)</i><i class="c12 g"><u>解锁</u>(TW)</i><i class="c13 g"><u>解锁</u></i><i class="c14 n">N/A</i><i class="c15 g"><u>解锁</u>(TW)</i><i class="c16 g"><u>解锁</u>(JP)</i><i class="c17 g"><u>允许注册</u>(TW)</i><i class="c18 g"><u>货币<s lang="zh-TW">：</s></u>TWD</i><i class="c19">FullCone</i></div>
<div class="r" style="top:586px;height:15px;line-height:13px"><i class="c0">38</i><i class="c1 nm"><em class="f-cn"></em><span>Taiwan Media 01 [Experimental]</span></i><i class="c2">Shadowsocks</i><i class="c3 s" style="background:#ffff33">1.06MB</i><i class="c4 s" style="background:#ff9fa9">3.53MB</i><i class="c5">254ms</i><i class="c6">1563ms</i><i class="c7 g"><u>解锁</u>(TW)</i><i class="c8 g"><u>解锁</u>(TW)</i><i class="c9 g"><u>解锁</u>(<u>台湾</u>)</i><i class="c10 n"><u>失败</u></i><i class="c11 n"><u>查询失败</u></i><i class="c12 g"><u>解锁</u>(TW)</i><i class="c13 g"><u>解锁</u></i><i class="c14 n">N/A</i><i class="c15 g"><u>解锁</u>(VN)</i><i class="c16 g"><u>解锁</u>(JP)</i><i class="c17 g"><u>允许注册</u>(TW)</i><i class="c18 g"><u>货币<s lang="zh-TW">：</s></u>TWD</i><i class="c19">Unknown</i></div>
<div class="r" style="top:601px;height:15px;line-height:13px"><i class="c0">39</i><i class="c1 nm"><em class="f-cn"></em><span>Taiwan Media 02 [Experimental]</span></i><i class="c2">Shadowsocks</i><i class="c3 s" style="background:#ff74ac">6.53MB</i><i class="c4 s" style="background:#ff4c70">11.95MB</i><i class="c5">463ms</i><i class="c6">2903ms</i><i class="c7 g"><u>解锁</u>(TW)</i><i class="c8 g"><u>解锁</u>(TW)</i><i class="c9 g"><u>解锁</u>(<u>台湾</u>)</i><i class="c10 n"><u>失败</u></i><i class="c11 n"><u>查询失败</u></i><i class="c12 g"><u>解锁</u>(TW)</i><i class="c13 g"><u>解锁</u></i><i class="c14 n">N/A</i><i class="c15 n">N/A</i><i class="c16 g"><u>解锁</u>(JP)</i><i class="c17 g"><u>允许注册</u>(TW)</i><i class="c18 g"><u>货币<s lang="zh-TW">：</s></u>TWD</i><i class="c19">FullCone</i></div>
<div class="r" style="top:616px;height:15px;line-height:13px"><i class="c0">40</i><i class="c1 nm"><em class="f-cn"></em><span>Taiwan Media 03 [Experimental]</span></i><i class="c2">Shadowsocks</i><i class="c3 s" style="background:#ff8bbc">4.19MB</i><i class="c4 s" style="background:#ff5881">10.32MB</i><i class="c5">88ms</i><i class="c6">3054ms</i><i class="c7 g"><u>解锁</u>(TW)</i><i class="c8 g"><u>解锁</u>(TW)</i><i class="c9 g"><u>解锁</u>(<u>台湾</u>)</i><i class="c10 n"><u>失败</u></i><i class="c11 n"><u>查询失败</u></i><i class="c12 g"><u>解锁</u>(TW)</i><i class="c13 g"><u>解锁</u></i><i class="c14 n">N/A</i><i class="c15 n">N/A</i><i class="c16 g"><u>解锁</u>(JP)</i><i class="c17 g"><u>允许注册</u>(TW)</i><i class="c18 g"><u>货币<s lang="zh-TW">：</s></u>TWD</i><i class="c19">FullCone</i></div>
<div class="r" style="top:631px;height:15px;line-height:13px"><i class="c0">41</i><i class="c1 nm"><em class="f-cn"></em><span>Taiwan Media 04 [Experimental]</span></i><i class="c2">Shadowsocks</i><i class="c3 s" style="background:#84fc00">104.18KB</i><i class="c4 s" style="background:#95fb02">233.27KB</i><i class="c5">103ms</i><i class="c6">2018ms</i><i class="c7 g"><u>解锁</u>(TW)</i><i class="c8 g"><u>解锁</u>(TW)</i><i class="c9 g"><u>解锁</u>(<u>台湾</u>)</i><i class="c10 n"><u>失败</u></i><i class="c11 n"><u>查询失败</u></i><i class="c12 g"><u>解锁</u>(TW)</i><i class="c13 g"><u>解锁</u></i><i class="c14 n">N/A</i><i class="c15 g"><u>解锁</u>(TW)</i><i class="c16 g"><u>解锁</u>(JP)</i><i class="c17 g"><u>允许注册</u>(TW)</i><i class="c18 g"><u>货币<s lang="zh-TW">：</s></u>TWD</i><i class="c19">Unknown</i></div>
<div class="r" style="top:646px;height:15px;line-height:13px"><i class="c0">42</i><i class="c1 nm"><em class="f-cn"></em><span>Taiwan Media 05 [Experimental]</span></i><i class="c2">Shadowsocks</i><i class="c3 s" style="background:#ffc25e">1.92MB</i><i class="c4 s" style="background:#ff71a9">6.91MB</i><i class="c5">404ms</i><i class="c6">1367ms</i><i class="c7 g"><u>解锁</u>(TW)</i><i class="c8 g"><u>解锁</u>(TW)</i><i class="c9 g"><u>解锁</u>(<u>台湾</u>)</i><i class="c10 n"><u>失败</u></i><i class="c11 g"><u>解锁</u>(TW)</i><i class="c12 g"><u>解锁</u>(TW)</i><i class="c13 g"><u>解锁</u></i><i class="c14 n">N/A</i><i class="c15 g"><u>解锁</u>(null)</i><i class="c16 g"><u>解锁</u>(JP)</i><i class="c17 g"><u>允许注册</u>(TW)</i><i class="c18 g"><u>货币<s lang="zh-TW">：</s></u>TWD</i><i class="c19">FullCone</i></div>
<div class="r" style="top:661px;height:15px;line-height:13px"><i class="c0">43</i><i class="c1 nm"><em class="f-cn"></em><span>Taiwan Media 06 [Experimental]</span></i><i class="c2">Shadowsocks</i><i class="c3 s" style="background:#ff73ab">6.67MB</i><i class="c4 s" style="background:#ff4b6e">12.24MB</i><i class="c5">192ms</i><i class="c6">2930ms</i><i class="c7 g"><u>解锁</u>(TW)</i><i class="c8 g"><u>解锁</u>(TW)</i><i class="c9 g"><u>解锁</u>(<u>台湾</u>)</i><i class="c10 n"><u>失败</u></i><i class="c11 n"><u>查询失败</u></i><i class="c12 g"><u>解锁</u>(TW)</i><i class="c13 g"><u>解锁</u></i><i class="c14 n">N/A</i><i class="c15 g"><u>解锁</u>(TW)</i><i class="c16 g"><u>解锁</u>(JP)</i><i class="c17 g"><u>允许注册</u>(TW)</i><i class="c18 g"><u>货币<s lang="zh-TW">：</s></u>TWD</i><i class="c19">FullCone</i></div>
<div class="r" style="top:676px;height:15px;line-height:13px"><i class="c0">44</i><i class="c1 nm"><em class="f-cn"></em><span>Taiwan Media 07 [Experimental]</span></i><i class="c2">Shadowsocks</i><i class="c3 s" style="background:#ffab86">2.77MB</i><i class="c4 s" style="background:#ff8abc">4.30MB</i><i class="c5">168ms</i><i class="c6">1661ms</i><i class="c7 g"><u>解锁</u>(TW)</i><i class="c8 g"><u>解锁</u>(TW)</i><i class="c9 g"><u>解锁</u>(<u>台湾</u>)</i><i class="c10 n"><u>失败</u></i><i class="c11 n"><u>查询失败</u></i><i class="c12 g"><u>解锁</u>(TW)</i><i class="c13 g"><u>解锁</u></i><i class="c14 n">N/A</i><i class="c15 g"><u>解锁</u>(TW)</i><i class="c16 g"><u>解锁</u>(JP)</i><i class="c17 g"><u>允许注册</u>(TW)</i><i class="c18 g"><u>货币<s lang="zh-TW">：</s></u>TWD</i><i class="c19">FullCone</i></div>
<div class="r" style="top:691px;height:15px;line-height:13px"><i class="c0">45</i><i class="c1 nm"><em class="f-cn"></em><span>Taiwan Media 08 [Experimental]</span></i><i class="c2">Shadowsocks</i><i class="c3 s" style="background:#ffac85">2.73MB</i><i class="c4 s" style="background:#ff73ab">6.62MB</i><i class="c5">1221ms</i><i class="c6">2652ms</i><i class="c7 g"><u>解锁</u>(TW)</i><i class="c8 g"><u>解锁</u>(US)</i><i class="c9 g"><u>解锁</u>(<u>台湾</u>)</i><i class="c10 n"><u>失败</u></i><i class="c11 n"><u>查询失败</u></i><i class="c12 g"><u>解锁</u>(TW)</i><i class="c13 g"><u>解锁</u></i><i class="c14 n">N/A</i><i class="c15 g"><u>解锁</u>(TW)</i><i class="c16 g"><u>解锁</u>(JP)</i><i class="c17 g"><u>允许注册</u>(TW)</i><i class="c18 g"><u>货币<s lang="zh-TW">：</s></u>TWD</i><i class="c19">FullCone</i></div>
<div class="r" style="top:706px;height:15px;line-height:13px"><i class="c0">46</i><i class="c1 nm"><em class="f-mo"></em><span>Macau 01 [Experimental]</span></i><i class="c2">Shadowsocks</i><i class="c3 s" style="background:#ff86b9">4.59MB</i><i class="c4 s" style="background:#ff5075">11.49MB</i><i class="c5">74ms</i><i class="c6">554ms</i><i class="c7 g"><u>解锁</u>(MO)</i><i class="c8 g"><u>解锁</u>(HK)</i><i class="c9 g"><u>解锁</u>(<u>港澳台</u>)</i><i class="c10 n"><u>失败</u></i><i class="c11 g"><u>解锁</u>(HK)</i><i class="c12 g"><u>解锁</u>(MO)</i><i class="c13">-</i><i class="c14 n">N/A</i><i class="c15 g"><u>解锁</u>(MO)</i><i class="c16 g"><u>解锁</u>(JP)</i><i class="c17 g"><u>允许注册</u>(MO)</i><i class="c18 g"><u>货币<s lang="zh-TW">：</s></u>USD</i><i class="c19">PortRestrictedCone</i></div>
<div class="r" style="top:721px;height:15px;line-height:13px"><i class="c0">47</i><i class="c1 nm"><em class="f-sg"></em><span>Singapore 01</span></i><i class="c2">Shadowsocks</i><i class="c3 s" style="background:#7ffc00">36.30KB</i><i class="c4 s" style="background:#82fc00">78.09KB</i><i class="c5">105ms</i><i class="c6">442ms</i><i class="c7 g"><u>解锁</u>(SG)</i><i class="c8 g"><u>解锁</u>(SG)</i><i class="c9 r"><u>失败</u></i><i class="c10 n"><u>失败</u></i><i class="c11 g"><u>解锁</u>(SG)</i><i class="c12 g"><u>解锁</u>(SG)</i><i class="c13">-</i><i class="c14 n">N/A</i><i class="c15 g"><u>解锁</u>(SG)</i><i class="c16 g"><u>解锁</u>(JP)</i><i class="c17 g"><u>允许注册</u>(SG)</i><i class="c18 g"><u>货币<s lang="zh-TW">：</s></u>SGD</i><i class="c19">FullCone</i></div>
<div class="r" style="top:736px;height:15px;line-height:13px"><i class="c0">48</i><i class="c1 nm"><em class="f-sg"></em><span>Singapore 02</span></i><i class="c2">Shadowsocks</i><i class="c3 s" style="background:#7efc00">20.06KB</i><i class="c4 s" style="background:#7ffc00">44.40KB</i><i class="c5">109ms</i><i class="c6">334ms</i><i class="c7 g"><u>解锁</u>(SG)</i><i class="c8 g"><u>解锁</u>(SG)</i><i class="c9 r"><u>失败</u></i><i class="c10 n"><u>失败</u></i><i class="c11 g"><u>解锁</u>(SG)</i><i class="c12 g"><u>解锁</u>(SG)</i><i class="c13">-</i><i class="c14 n">N/A</i><i class="c15 g"><u>解锁</u>(SG)</i><i class="c16 g"><u>解锁</u>(JP)</i><i class="c17 g"><u>允许注册</u>(SG)</i><i class="c18 g"><u>货币<s lang="zh-TW">：</s></u>SGD</i><i class="c19">FullCone</i></div>
<div class="r" style="top:751px;height:15px;line-height:13px"><i class="c0">49</i><i class="c1 nm"><em class="f-sg"></em><span>Singapore 03</span></i><i class="c2">Shadowsocks</i><i class="c3 s" style="background:#ff0000">28.17MB</i><i class="c4 s" style="background:#ff0000">39.45MB</i><i class="c5">114ms</i><i class="c6">348ms</i><i class="c7 g"><u>解锁</u>(SG)</i><i class="c8 g"><u>解锁</u>(SG)</i><i class="c9 r"><u>失败</u></i><i class="c10 n"><u>失败</u></i><i class="c11 g"><u>解锁</u>(SG)</i><i class="c12 g"><u>解锁</u>(SG)</i><i class="c13">-</i><i class="c14 n">N/A</i><i class="c15 g"><u>解锁</u>(SG)</i><i class="c16 g"><u>解锁</u>(JP)</i><i class="c17 g"><u>允许注册</u>(SG)</i><i class="c18 g"><u>货币<s lang="zh-TW">：</s></u>SGD</i><i class="c19">Unknown</i></div>
<div class="r" style="top:766px;height:15px;line-height:13px"><i class="c0">50</i><i class="c1 nm"><em class="f-sg"></em><span>Singapore 04</span></i><i class="c2">Shadowsocks</i><i class="c3 s" style="background:#ff0000">44.41MB</i><i class="c4 s" style="background:#ff0000">50.39MB</i><i class="c5">98ms</i><i class="c6">312ms</i><i class="c7 g"><u>解锁</u>(SG)</i><i class="c8 g"><u>解锁</u>(SG)</i><i class="c9 r"><u>失败</u></i><i class="c10 n"><u>失败</u></i><i class="c11 g"><u>解锁</u>(SG)</i><i class="c12 g"><u>解锁</u>(SG)</i><i class="c13">-</i><i class="c14 n">N/A</i><i class="c15 g"><u>解锁</u>(SG)</i><i class="c16 g"><u>解锁</u>(JP)</i><i class="c17 g"><u>允许注册</u>(SG)</i><i class="c18 g"><u>货币<s lang="zh-TW">：</s></u>SGD</i><i class="c19">PortRestrictedCone</i></div>
<div class="r" style="top:781px;height:15px;line-height:13px"><i class="c0">51</i><i class="c1 nm"><em class="f-sg"></em><span>Singapore 05</span></i><i class="c2">Shadowsocks</i><i class="c3 s" style="background:#ff0000">34.64MB</i><i class="c4 s" style="background:#ff0000">49.58MB</i><i class="c5">83ms</i><i class="c6">336ms</i><i class="c7 g"><u>解锁</u>(SG)</i><i class="c8 g"><u>解锁</u>(SG)</i><i class="c9 r"><u>失败</u></i><i class="c10 n"><u>失败</u></i><i class="c11 g"><u>解锁</u>(SG)</i><i class="c12 g"><u>解锁</u>(SG)</i><i class="c13">-</i><i class="c14 n">N/A</i><i class="c15 g"><u>解锁</u>(SG)</i><i class="c16 g"><u>解锁</u>(JP)</i><i class="c17 g"><u>允许注册</u>(SG)</i><i class="c18 g"><u>货币<s lang="zh-TW">：</s></u>SGD</i><i class="c19">FullCone</i></div>
<div class="r" style="top:796px;height:15px;line-height:13px"><i class="c0">52</i><i class="c1 nm"><em class="f-sg"></em><span>Singapore 06</span></i><i class="c2">Shadowsocks</i><i class="c3 s" style="background:#ff0000">21.57MB</i><i class="c4 s" style="background:#ff0000">28.72MB</i><i class="c5">110ms</i><i class="c6">349ms</i><i class="c7 g"><u>解锁</u>(SG)</i><i class="c8 g"><u>解锁</u>(SG)</i><i class="c9 r"><u>失败</u></i><i class="c10 n"><u>失败</u></i><i class="c11 g"><u>解锁</u>(SG)</i><i class="c12 g"><u>解锁</u>(SG)</i><i class="c13">-</i><i class="c14 n">N/A</i><i class="c15 g"><u>解锁</u>(SG)</i><i class="c16 g"><u>解锁</u>(JP)</i><i class="c17 g"><u>允许注册</u>(SG)</i><i class="c18 g"><u>货币<s lang="zh-TW">：</s></u>SGD</i><i class="c19">FullCone</i></div>
<div class="r" style="top:811px;height:15px;line-height:13px"><i class="c0">53</i><i class="c1 nm"><em class="f-sg"></em><span>Singapore 07</span></i><i class="c2">Shadowsocks</i><i class="c3 s" style="background:#d6ff1f">423.83KB</i><i class="c4 s" style="background:#ffff32">992.00KB</i><i class="c5">97ms</i><i class="c6">313ms</i><i class="c7 g"><u>解锁</u>(SG)</i><i class="c8 g"><u>解锁</u>(SG)</i><i class="c9 r"><u>失败</u></i><i class="c10 g"><u>解锁</u></i><i class="c11 g"><u>解锁</u>(SG)</i><i class="c12 g"><u>解锁</u>(SG)</i><i class="c13">-</i><i class="c14 n">N/A</i><i class="c15 g"><u>解锁</u>(SG)</i><i class="c16 g"><u>解锁</u>(JP)</i><i class="c17 g"><u>允许注册</u>(SG)</i><i class="c18 g"><u>货币<s lang="zh-TW">：</s></u>SGD</i><i class="c19">FullCone</i></div>
<div class="r" style="top:826px;height:15px;line-height:13px"><i class="c0">54</i><i class="c1 nm"><em class="f-sg"></em><span>Singapore 08</span></i><i class="c2">Shadowsocks</i><i class="c3 s" style="background:#ff0000">39.88MB</i><i class="c4 s" style="background:#ff0000">51.29MB</i><i class="c5">92ms</i><i class="c6">312ms</i><i class="c7 g"><u>解锁</u>(SG)</i><i class="c8 g"><u>解锁</u>(SG)</i><i class="c9 r"><u>失败</u></i><i class="c10 n"><u>失败</u></i><i class="c11 g"><u>解锁</u>(SG)</i><i class="c12 g"><u>解锁</u>(SG)</i><i class="c13">-</i><i class="c14 n">N/A</i><i class="c15 g"><u>解锁</u>(SG)</i><i class="c16 g"><u>解锁</u>(JP)</i><i class="c17 g"><u>允许注册</u>(SG)</i><i class="c18 g"><u>货币<s lang="zh-TW">：</s></u>SGD</i><i class="c19">FullCone</i></div>
<div class="r" style="top:841px;height:15px;line-height:13px"><i class="c0">55</i><i class="c1 nm"><em class="f-sg"></em><span>Singapore 09</span></i><i class="c2">Shadowsocks</i><i class="c3 s" style="background:#ff73ab">6.57MB</i><i class="c4 s" style="background:#ff0000">20.99MB</i><i class="c5">154ms</i><i class="c6">382ms</i><i class="c7 g"><u>解锁</u>(SG)</i><i class="c8 g"><u>解锁</u>(SG)</i><i class="c9 r"><u>失败</u></i><i class="c10 n"><u>失败</u></i><i class="c11 g"><u>解锁</u>(SG)</i><i class="c12 g"><u>解锁</u>(SG)</i><i class="c13">-</i><i class="c14 n">N/A</i><i class="c15 g"><u>解锁</u>(MO)</i><i class="c16 g"><u>解锁</u>(JP)</i><i class="c17 g"><u>允许注册</u>(SG)</i><i class="c18 g"><u>货币<s lang="zh-TW">：</s></u>SGD</i><i class="c19">Unknown</i></div>
<div class="r" style="top:856px;height:15px;line-height:13px"><i class="c0">56</i><i class="c1 nm"><em class="f-sg"></em><span>Singapore 10</span></i><i class="c2">Shadowsocks</i><i class="c3 s" style="background:#ff0000">35.01MB</i><i class="c4 s" style="background:#ff0000">43.93MB</i><i class="c5">101ms</i><i class="c6">325ms</i><i class="c7 g"><u>解锁</u>(SG)</i><i class="c8 g"><u>解锁</u>(SG)</i><i class="c9 r"><u>失败</u></i><i class="c10 n"><u>失败</u></i><i class="c11 g"><u>解锁</u>(SG)</i><i class="c12 g"><u>解锁</u>(SG)</i><i class="c13">-</i><i class="c14 n">N/A</i><i class="c15 g"><u>解锁</u>(SG)</i><i class="c16 g"><u>解锁</u>(JP)</i><i class="c17 g"><u>允许注册</u>(SG)</i><i class="c18 g"><u>货币<s lang="zh-TW">：</s></u>SGD</i><i class="c19">FullCone</i></div>
<div class="r" style="top:871px;height:15px;line-height:13px"><i class="c0">57</i><i class="c1 nm"><em class="f-jp"></em><span>Japan 01</span></i><i class="c2">Shadowsocks</i><i class="c3 s" style="background:#ff0000">23.70MB</i><i class="c4 s" style="background:#ff0000">31.64MB</i><i class="c5">110ms</i><i class="c6">378ms</i><i class="c7 g"><u>解锁</u>(JP)</i><i class="c8 g"><u>解锁</u>(JP)</i><i class="c9 r"><u>失败</u></i><i class="c10 n"><u>失败</u></i><i class="c11 g"><u>解锁</u>(JP)</i><i class="c12 g"><u>解锁</u>(JP)</i><i class="c13">-</i><i class="c14 g"><u>解锁</u></i><i class="c15 g"><u>解锁</u>(US)</i><i class="c16 g"><u>解锁</u>(JP)</i><i class="c17 g"><u>允许注册</u>(JP)</i><i class="c18 g"><u>货币<s lang="zh-TW">：</s></u>JPY</i><i class="c19">Unknown</i></div>
<div class="r" style="top:886px;height:15px;line-height:13px"><i class="c0">58</i><i class="c1 nm"><em class="f-jp"></em><span>Japan 02</span></i><i class="c2">Shadowsocks</i><i class="c3 s" style="background:#ff0000">32.15MB</i><i class="c4 s" style="background:#ff0000">34.98MB</i><i class="c5">110ms</i><i class="c6">1018ms</i><i class="c7 g"><u>解锁</u>(JP)</i><i class="c8 g"><u>解锁</u>(JP)</i><i class="c9 r"><u>失败</u></i><i class="c10 n"><u>失败</u></i><i class="c11 g"><u>解锁</u>(JP)</i><i class="c12 g"><u>解锁</u>(JP)</i><i class="c13">-</i><i class="c14 g"><u>解锁</u></i><i class="c15 g"><u>解锁</u>(US)</i><i class="c16 g"><u>解锁</u>(JP)</i><i class="c17 g"><u>允许注册</u>(JP)</i><i class="c18 g"><u>货币<s lang="zh-TW">：</s></u>JPY</i><i class="c19">FullCone</i></div>
<div class="r" style="top:901px;height:15px;line-height:13px"><i class="c0">59</i><i class="c1 nm"><em class="f-jp"></em><span>Japan 03</span></i><i class="c2">Shadowsocks</i><i class="c3 s" style="background:#ff0000">28.11MB</i><i class="c4 s" style="background:#ff0000">34.30MB</i><i class="c5">120ms</i><i class="c6">390ms</i><i class="c7 g"><u>解锁</u>(JP)</i><i class="c8 g"><u>解锁</u>(JP)</i><i class="c9 r"><u>失败</u></i><i class="c10 n"><u>失败</u></i><i class="c11 g"><u>解锁</u>(JP)</i><i class="c12 g"><u>解锁</u>(JP)</i><i class="c13">-</i><i class="c14 g"><u>解锁</u></i><i class="c15 g"><u>解锁</u>(JP)</i><i class="c16 g"><u>解锁</u>(JP)</i><i class="c17 g"><u>允许注册</u>(JP)</i><i class="c18 g"><u>货币<s lang="zh-TW">：</s></u>JPY</i><i class="c19">FullCone</i></div>
<div class="r" style="top:916px;height:15px;line-height:13px"><i class="c0">60</i><i class="c1 nm"><em class="f-jp"></em><span>Japan 04</span></i><i class="c2">Shadowsocks</i><i class="c3 s" style="background:#ff0000">29.44MB</i><i class="c4 s" style="background:#ff0000">34.77MB</i><i class="c5">122ms</i><i class="c6">415ms</i><i class="c7 g"><u>解锁</u>(JP)</i><i class="c8 g"><u>解锁</u>(JP)</i><i class="c9 r"><u>失败</u></i><i class="c10 n"><u>失败</u></i><i class="c11 g"><u>解锁</u>(JP)</i><i class="c12 g"><u>解锁</u>(JP)</i><i class="c13">-</i><i class="c14 g"><u>解锁</u></i><i class="c15 g"><u>解锁</u>(US)</i><i class="c16 g"><u>解锁</u>(JP)</i><i class="c17 g"><u>允许注册</u>(JP)</i><i class="c18 g"><u>货币<s lang="zh-TW">：</s></u>JPY</i><i class="c19">Unknown</i></div>
<div class="r" style="top:931px;height:15px;line-height:13px"><i class="c0">61</i><i class="c1 nm"><em class="f-jp"></em><span>Japan 05</span></i><i class="c2">Shadowsocks</i><i class="c3 s" style="background:#ff0000">30.37MB</i><i class="c4 s" style="background:#ff0000">32.80MB</i><i class="c5">128ms</i><i class="c6">415ms</i><i class="c7 g"><u>解锁</u>(JP)</i><i class="c8 g"><u>解锁</u>(JP)</i><i class="c9 r"><u>失败</u></i><i class="c10 n"><u>失败</u></i><i class="c11 g"><u>解锁</u>(JP)</i><i class="c12 g"><u>解锁</u>(JP)</i><i class="c13">-</i><i class="c14 g"><u>解锁</u></i><i class="c15 g"><u>解锁</u>(JP)</i><i class="c16 g"><u>解锁</u>(JP)</i><i class="c17 g"><u>允许注册</u>(JP)</i><i class="c18 g"><u>货币<s lang="zh-TW">：</s></u>JPY</i><i class="c19">FullCone</i></div>
<div class="r" style="top:946px;height:15px;line-height:13px"><i class="c0">62</i><i class="c1 nm"><em class="f-jp"></em><span>Japan Media 01</span></i><i class="c2">Shadowsocks</i><i class="c3 s" style="background:#ff0609">19.71MB</i><i class="c4 s" style="background:#ff0000">21.46MB</i><i class="c5">143ms</i><i class="c6">493ms</i><i class="c7 g"><u>解锁</u>(JP)</i><i class="c8 o"><u>送中</u>(CN)</i><i class="c9 r"><u>失败</u></i><i class="c10 n"><u>失败</u></i><i class="c11 g"><u>解锁</u>(JP)</i><i class="c12 g"><u>解锁</u>(JP)</i><i class="c13">-</i><i class="c14 g"><u>解锁</u></i><i class="c15 g"><u>解锁</u>(JP)</i><i class="c16 g"><u>解锁</u>(JP)</i><i class="c17 g"><u>允许注册</u>(JP)</i><i class="c18 g"><u>货币<s lang="zh-TW">：</s></u>JPY</i><i class="c19">FullCone</i></div>
<div class="r" style="top:961px;height:15px;line-height:13px"><i class="c0">63</i><i class="c1 nm"><em class="f-us"></em><span>United States 01</span></i><i class="c2">Shadowsocks</i><i class="c3 s" style="background:#ff5279">11.12MB</i><i class="c4 s" style="background:#ff3149">16.52MB</i><i class="c5">224ms</i><i class="c6">694ms</i><i class="c7 g"><u>解锁</u>(US)</i><i class="c8 g"><u>解锁</u>(US)</i><i class="c9 r"><u>失败</u></i><i class="c10 g"><u>解锁</u></i><i class="c11 g"><u>解锁</u>(US)</i><i class="c12 g"><u>解锁</u>(US)</i><i class="c13">-</i><i class="c14 n">N/A</i><i class="c15 g"><u>解锁</u>(US)</i><i class="c16 g"><u>解锁</u>(US)</i><i class="c17 g"><u>允许注册</u>(US)</i><i class="c18 g"><u>货币<s lang="zh-TW">：</s></u>USD</i><i class="c19">FullCone</i></div>
<div class="r" style="top:976px;height:15px;line-height:13px"><i class="c0">64</i><i class="c1 nm"><em class="f-us"></em><span>United States 02</span></i><i class="c2">Shadowsocks</i><i class="c3 s" style="background:#ff5a83">10.06MB</i><i class="c4 s" style="background:#ff4261">13.74MB</i><i class="c5">199ms</i><i class="c6">1904ms</i><i class="c7 g"><u>解锁</u>(US)</i><i class="c8 g"><u>解锁</u>(US)</i><i class="c9 r"><u>失败</u></i><i class="c10 g"><u>解锁</u></i><i class="c11 g"><u>解锁</u>(US)</i><i class="c12 g"><u>解锁</u>(US)</i><i class="c13">-</i><i class="c14 n">N/A</i><i class="c15 g"><u>解锁</u>(US)</i><i class="c16 g"><u>解锁</u>(US)</i><i class="c17 g"><u>允许注册</u>(US)</i><i class="c18 g"><u>货币<s lang="zh-TW">：</s></u>USD</i><i class="c19">FullCone</i></div>
<div class="r" style="top:991px;height:15px;line-height:13px"><i class="c0">65</i><i class="c1 nm"><em class="f-us"></em><span>United States 03</span></i><i class="c2">Shadowsocks</i><i class="c3 s" style="background:#ff4d72">11.85MB</i><i class="c4 s" style="background:#ff4160">13.79MB</i><i class="c5">195ms</i><i class="c6">616ms</i><i class="c7 g"><u>解锁</u>(US)</i><i class="c8 g"><u>解锁</u>(US)</i><i class="c9 r"><u>失败</u></i><i class="c10 g"><u>解锁</u></i><i class="c11 g"><u>解锁</u>(US)</i><i class="c12 g"><u>解锁</u>(US)</i><i class="c13">-</i><i class="c14 n">N/A</i><i class="c15 g"><u>解锁</u>(US)</i><i class="c16 g"><u>解锁</u>(US)</i><i class="c17 g"><u>允许注册</u>(US)</i><i class="c18 g"><u>货币<s lang="zh-TW">：</s></u>USD</i><i class="c19">FullCone</i></div>
<div class="r" style="top:1006px;height:15px;line-height:13px"><i class="c0">66</i><i class="c1 nm"><em class="f-us"></em><span>United States 04</span></i><i class="c2">Shadowsocks</i><i class="c3 s" style="background:#ff6496">8.68MB</i><i class="c4 s" style="background:#ff1c2b">18.50MB</i><i class="c5">214ms</i><i class="c6">656ms</i><i class="c7 g"><u>解锁</u>(US)</i><i class="c8 g"><u>解锁</u>(US)</i><i class="c9 r"><u>失败</u></i><i class="c10 g"><u>解锁</u></i><i class="c11 g"><u>解锁</u>(US)</i><i class="c12 g"><u>解锁</u>(US)</i><i class="c13">-</i><i class="c14 n">N/A</i><i class="c15 g"><u>解锁</u>(US)</i><i class="c16 g"><u>解锁</u>(US)</i><i class="c17 g"><u>允许注册</u>(US)</i><i class="c18 g"><u>货币<s lang="zh-TW">：</s></u>USD</i><i class="c19">FullCone</i></div>
<div class="r" style="top:1021px;height:15px;line-height:13px"><i class="c0">67</i><i class="c1 nm"><em class="f-us"></em><span>United States 05</span></i><i class="c2">Shadowsocks</i><i class="c3 s" style="background:#ff4a6e">12.28MB</i><i class="c4 s" style="background:#ff2c40">17.49MB</i><i class="c5">297ms</i><i class="c6">720ms</i><i class="c7 g"><u>解锁</u>(US)</i><i class="c8 g"><u>解锁</u>(US)</i><i class="c9 r"><u>失败</u></i><i class="c10 g"><u>解锁</u></i><i class="c11 g"><u>解锁</u>(US)</i><i class="c12 g"><u>解锁</u>(US)</i><i class="c13">-</i><i class="c14 n">N/A</i><i class="c15 g"><u>解锁</u>(US)</i><i class="c16 g"><u>解锁</u>(US)</i><i class="c17 g"><u>允许注册</u>(US)</i><i class="c18 g"><u>货币<s lang="zh-TW">：</s></u>USD</i><i class="c19">FullCone</i></div>
<div class="r" style="top:1036px;height:15px;line-height:13px"><i class="c0">68</i><i class="c1 nm"><em class="f-us"></em><span>United States 06</span></i><i class="c2">Shadowsocks</i><i class="c3 s" style="background:#ff69a0">7.98MB</i><i class="c4 s" style="background:#ff5075">11.50MB</i><i class="c5">227ms</i><i class="c6">692ms</i><i class="c7 g"><u>解锁</u>(US)</i><i class="c8 g"><u>解锁</u>(US)</i><i class="c9 r"><u>失败</u></i><i class="c10 g"><u>解锁</u></i><i class="c11 g"><u>解锁</u>(US)</i><i class="c12 g"><u>解锁</u>(US)</i><i class="c13">-</i><i class="c14 n">N/A</i><i class="c15 g"><u>解锁</u>(US)</i><i class="c16 g"><u>解锁</u>(US)</i><i class="c17 g"><u>允许注册</u>(US)</i><i class="c18 g"><u>货币<s lang="zh-TW">：</s></u>USD</i><i class="c19">FullCone</i></div>
<div class="r" style="top:1051px;height:15px;line-height:13px"><i class="c0">69</i><i class="c1 nm"><em class="f-us"></em><span>United States 07</span></i><i class="c2">Shadowsocks</i><i class="c3 s" style="background:#ff5881">10.33MB</i><i class="c4 s" style="background:#ff486a">12.67MB</i><i class="c5">224ms</i><i class="c6">705ms</i><i class="c7 g"><u>解锁</u>(US)</i><i class="c8 g"><u>解锁</u>(US)</i><i class="c9 r"><u>失败</u></i><i class="c10 g"><u>解锁</u></i><i class="c11 g"><u>解锁</u>(US)</i><i class="c12 g"><u>解锁</u>(US)</i><i class="c13">-</i><i class="c14 n">N/A</i><i class="c15 g"><u>解锁</u>(US)</i><i class="c16 g"><u>解锁</u>(US)</i><i class="c17 g"><u>允许注册</u>(US)</i><i class="c18 g"><u>货币<s lang="zh-TW">：</s></u>USD</i><i class="c19">FullCone</i></div>
<div class="r" style="top:1066px;height:15px;line-height:13px"><i class="c0">70</i><i class="c1 nm"><em class="f-us"></em><span>United States 08</span></i><i class="c2">Shadowsocks</i><i class="c3 s" style="background:#ff5882">10.23MB</i><i class="c4 s" style="background:#ff4b6e">12.22MB</i><i class="c5">193ms</i><i class="c6">603ms</i><i class="c7 g"><u>解锁</u>(US)</i><i class="c8 g"><u>解锁</u>(US)</i><i class="c9 r"><u>失败</u></i><i class="c10 g"><u>解锁</u></i><i class="c11 g"><u>解锁</u>(US)</i><i class="c12 g"><u>解锁</u>(US)</i><i class="c13">-</i><i class="c14 n">N/A</i><i class="c15 g"><u>解锁</u>(US)</i><i class="c16 g"><u>解锁</u>(US)</i><i class="c17 g"><u>允许注册</u>(US)</i><i class="c18 g"><u>货币<s lang="zh-TW">：</s></u>USD</i><i class="c19">FullCone</i></div>
<div class="r" style="top:1081px;height:15px;line-height:13px"><i class="c0">71</i><i class="c1 nm"><em class="f-us"></em><span>United States 09</span></i><i class="c2">Shadowsocks</i><i class="c3 s" style="background:#ff5b85">9.92MB</i><i class="c4 s" style="background:#ff496c">12.42MB</i><i class="c5">219ms</i><i class="c6">673ms</i><i class="c7 g"><u>解锁</u>(US)</i><i class="c8 g"><u>解锁</u>(US)</i><i class="c9 r"><u>失败</u></i><i class="c10 g"><u>解锁</u></i><i class="c11 g"><u>解锁</u>(US)</i><i class="c12 g"><u>解锁</u>(US)</i><i class="c13">-</i><i class="c14 n">N/A</i><i class="c15 g"><u>解锁</u>(US)</i><i class="c16 g"><u>解锁</u>(US)</i><i class="c17 g"><u>允许注册</u>(US)</i><i class="c18 g"><u>货币<s lang="zh-TW">：</s></u>USD</i><i class="c19">FullCone</i></div>
<div class="r" style="top:1096px;height:15px;line-height:13px"><i class="c0">72</i><i class="c1 nm"><em class="f-us"></em><span>United States 10</span></i><i class="c2">Shadowsocks</i><i class="c3 s" style="background:#ff5f8d">9.37MB</i><i class="c4 s" style="background:#ff4464">13.33MB</i><i class="c5">221ms</i><i class="c6">1394ms</i><i class="c7 g"><u>解锁</u>(US)</i><i class="c8 g"><u>解锁</u>(US)</i><i class="c9 r"><u>失败</u></i><i class="c10 g"><u>解锁</u></i><i class="c11 g"><u>解锁</u>(US)</i><i class="c12 g"><u>解锁</u>(US)</i><i class="c13">-</i><i class="c14 n">N/A</i><i class="c15 g"><u>解锁</u>(US)</i><i class="c16 g"><u>解锁</u>(US)</i><i class="c17 g"><u>允许注册</u>(US)</i><i class="c18 g"><u>货币<s lang="zh-TW">：</s></u>USD</i><i class="c19">FullCone</i></div>
<div class="r" style="top:1111px;height:15px;line-height:13px"><i class="c0">73</i><i class="c1 nm"><em class="f-my"></em><span>Malaysia 01</span></i><i class="c2">Shadowsocks</i><i class="c3 s" style="background:#ff8bbc">4.19MB</i><i class="c4 s" style="background:#ff7ab1">5.80MB</i><i class="c5">138ms</i><i class="c6">568ms</i><i class="c7 g"><u>解锁</u>(MY)</i><i class="c8 g"><u>解锁</u>(MY)</i><i class="c9 r"><u>失败</u></i><i class="c10 n"><u>失败</u></i><i class="c11 o"><u>待解锁</u>(MY)</i><i class="c12 g"><u>解锁</u>(MY)</i><i class="c13">-</i><i class="c14 n">N/A</i><i class="c15 g"><u>解锁</u>(MY)</i><i class="c16 g"><u>解锁</u>(MY)</i><i class="c17 g"><u>允许注册</u>(MY)</i><i class="c18 g"><u>货币<s lang="zh-TW">：</s></u>MYR</i><i class="c19">Unknown</i></div>
<div class="r" style="top:1126px;height:15px;line-height:13px"><i class="c0">74</i><i class="c1 nm"><em class="f-my"></em><span>Malaysia 02</span></i><i class="c2">Shadowsocks</i><i class="c3 s" style="background:#ff75ad">6.32MB</i><i class="c4 s" style="background:#ff6da4">7.44MB</i><i class="c5">168ms</i><i class="c6">516ms</i><i class="c7 b"><u>未知</u></i><i class="c8 g"><u>解锁</u>(MY)</i><i class="c9 r"><u>失败</u></i><i class="c10 n"><u>失败</u></i><i class="c11 o"><u>待解锁</u>(MY)</i><i class="c12 g"><u>解锁</u>(MY)</i><i class="c13">-</i><i class="c14 n">N/A</i><i class="c15 g"><u>解锁</u>(MY)</i><i class="c16 g"><u>解锁</u>(MY)</i><i class="c17 g"><u>允许注册</u>(MY)</i><i class="c18 g"><u>货币<s lang="zh-TW">：</s></u>MYR</i><i class="c19">FullCone</i></div>
<div class="r" style="top:1141px;height:15px;line-height:15px"><i class="c0">75</i><i class="c1 nm"><em class="f-my"></em><span>Malaysia 03</span></i><i class="c2">Shadowsocks</i><i class="c3 s" style="background:#ff3b57">14.87MB</i><i class="c4 s" style="background:#ff0000">20.88MB</i><i class="c5">163ms</i><i class="c6">529ms</i><i class="c7 g"><u>解锁</u>(MY)</i><i class="c8 g"><u>解锁</u>(MY)</i><i class="c9 r"><u>失败</u></i><i class="c10 n"><u>失败</u></i><i class="c11 o"><u>待解锁</u>(MY)</i><i class="c12 g"><u>解锁</u>(MY)</i><i class="c13">-</i><i class="c14 n">N/A</i><i class="c15 g"><u>解锁</u>(MY)</i><i class="c16 g"><u>解锁</u>(MY)</i><i class="c17 g"><u>允许注册</u>(MY)</i><i class="c18 g"><u>货币<s lang="zh-TW">：</s></u>MYR</i><i class="c19">FullCone</i></div>
<div class="r" style="top:1156px;height:15px;line-height:15px"><i class="c0">76</i><i class="c1 nm"><em class="f-my"></em><span>Malaysia 04</span></i><i class="c2">Shadowsocks</i><i class="c3 s" style="background:#feff30">629.82KB</i><i class="c4 s" style="background:#ffcc54">1.76MB</i><i class="c5">180ms</i><i class="c6">552ms</i><i class="c7 g"><u>解锁</u>(MY)</i><i class="c8 o"><u>送中</u>(CN)</i><i class="c9 r"><u>失败</u></i><i class="c10 n"><u>失败</u></i><i class="c11 o"><u>待解锁</u>(MY)</i><i class="c12 g"><u>解锁</u>(MY)</i><i class="c13">-</i><i class="c14 n">N/A</i><i class="c15 g"><u>解锁</u>(MY)</i><i class="c16 g"><u>解锁</u>(MY)</i><i class="c17 g"><u>允许注册</u>(MY)</i><i class="c18 g"><u>货币<s lang="zh-TW">：</s></u>MYR</i><i class="c19">Unknown</i></div>
<div class="r" style="top:1171px;height:15px;line-height:15px"><i class="c0">77</i><i class="c1 nm"><em class="f-kr"></em><span>South Korea 01</span></i><i class="c2">Shadowsocks</i><i class="c3 s" style="background:#ff0000">32.32MB</i><i class="c4 s" style="background:#ff0000">38.67MB</i><i class="c5">157ms</i><i class="c6">482ms</i><i class="c7 b"><u>未知</u></i><i class="c8 g"><u>解锁</u>(KR)</i><i class="c9 r"><u>失败</u></i><i class="c10 n"><u>失败</u></i><i class="c11 r"><u>失败</u></i><i class="c12 g"><u>解锁</u>(KR)</i><i class="c13">-</i><i class="c14 n">N/A</i><i class="c15 g"><u>解锁</u>(KR)</i><i class="c16 g"><u>解锁</u>(KR)</i><i class="c17 g"><u>允许注册</u>(KR)</i><i class="c18 g"><u>货币<s lang="zh-TW">：</s></u>KRW</i><i class="c19">FullCone</i></div>
<div class="r" style="top:1186px;height:15px;line-height:15px"><i class="c0">78</i><i class="c1 nm"><em class="f-ph"></em><span>Philippines 01</span></i><i class="c2">Shadowsocks</i><i class="c3 s" style="background:#ff0000">23.97MB</i><i class="c4 s" style="background:#ff0000">27.84MB</i><i class="c5">115ms</i><i class="c6">467ms</i><i class="c7 g"><u>解锁</u>(PH)</i><i class="c8 g"><u>解锁</u>(PH)</i><i class="c9 r"><u>失败</u></i><i class="c10 n"><u>失败</u></i><i class="c11 o"><u>待解锁</u>(PH)</i><i class="c12 g"><u>解锁</u>(PH)</i><i class="c13">-</i><i class="c14 n">N/A</i><i class="c15 g"><u>解锁</u>(PH)</i><i class="c16 g"><u>解锁</u>(PH)</i><i class="c17 g"><u>允许注册</u>(PH)</i><i class="c18 g"><u>货币<s lang="zh-TW">：</s></u>PHP</i><i class="c19">FullCone</i></div>
<div class="r" style="top:1201px;height:15px;line-height:15px"><i class="c0">79</i><i class="c1 nm"><em class="f-vn"></em><span>Vietnam 01</span></i><i class="c2">Shadowsocks</i><i class="c3 s" style="background:#ffb080">2.50MB</i><i class="c4 s" style="background:#ff2c40">17.50MB</i><i class="c5">110ms</i><i class="c6">370ms</i><i class="c7 g"><u>解锁</u>(VN)</i><i class="c8 g"><u>解锁</u>(VN)</i><i class="c9 r"><u>失败</u></i><i class="c10 n"><u>失败</u></i><i class="c11 o"><u>待解锁</u>(VN)</i><i class="c12 g"><u>解锁</u>(VN)</i><i class="c13">-</i><i class="c14 n">N/A</i><i class="c15 g"><u>解锁</u>(VN)</i><i class="c16 r"><u>失败</u>(VN)</i><i class="c17 n">N/A</i><i class="c18 g"><u>货币<s lang="zh-TW">：</s></u>VND</i><i class="c19">FullCone</i></div>
<div class="r" style="top:1216px;height:15px;line-height:15px"><i class="c0">80</i><i class="c1 nm"><em class="f-th"></em><span>Thailand 01</span></i><i class="c2">Shadowsocks</i><i class="c3 s" style="background:#ffd050">1.70MB</i><i class="c4 s" style="background:#ffae9c">3.11MB</i><i class="c5">142ms</i><i class="c6">431ms</i><i class="c7 g"><u>解锁</u>(LA)</i><i class="c8 g"><u>解锁</u>(TH)</i><i class="c9 r"><u>失败</u></i><i class="c10 n"><u>失败</u></i><i class="c11 o"><u>待解锁</u>(LA)</i><i class="c12 g"><u>解锁</u>(TH)</i><i class="c13">-</i><i class="c14 n">N/A</i><i class="c15 g"><u>解锁</u>(TH)</i><i class="c16 g"><u>解锁</u>(TH)</i><i class="c17 g"><u>允许注册</u>(TH)</i><i class="c18 g"><u>货币<s lang="zh-TW">：</s></u>THB</i><i class="c19">FullCone</i></div>
<div class="r" style="top:1231px;height:15px;line-height:15px"><i class="c0">81</i><i class="c1 nm"><em class="f-id"></em><span>Indonesia 01</span></i><i class="c2">Shadowsocks</i><i class="c3 s" style="background:#ff6ca3">7.65MB</i><i class="c4 s" style="background:#ff0000">29.59MB</i><i class="c5">126ms</i><i class="c6">394ms</i><i class="c7 g"><u>解锁</u>(ID)</i><i class="c8 o"><u>送中</u>(CN)</i><i class="c9 r"><u>失败</u></i><i class="c10 n"><u>失败</u></i><i class="c11 o"><u>待解锁</u>(ID)</i><i class="c12 g"><u>解锁</u>(ID)</i><i class="c13">-</i><i class="c14 n">N/A</i><i class="c15 g"><u>解锁</u>(ID)</i><i class="c16 g"><u>解锁</u>(ID)</i><i class="c17 g"><u>允许注册</u>(ID)</i><i class="c18 g"><u>货币<s lang="zh-TW">：</s></u>IDR</i><i class="c19">FullCone</i></div>
<div class="r" style="top:1246px;height:15px;line-height:15px"><i class="c0">82</i><i class="c1 nm"><em class="f-in"></em><span>India 01</span></i><i class="c2">Shadowsocks</i><i class="c3 s" style="background:#ff3954">15.21MB</i><i class="c4 s" style="background:#ff0204">19.88MB</i><i class="c5">168ms</i><i class="c6">598ms</i><i class="c7 b"><u>未知</u></i><i class="c8 g"><u>解锁</u>(IN)</i><i class="c9 r"><u>失败</u></i><i class="c10 n"><u>失败</u></i><i class="c11 r"><u>失败</u></i><i class="c12 g"><u>解锁</u>(IN)</i><i class="c13">-</i><i class="c14 n">N/A</i><i class="c15 r"><u>失败</u></i><i class="c16 g"><u>解锁</u>(IN)</i><i class="c17 g"><u>允许注册</u>(IN)</i><i class="c18 g"><u>货币<s lang="zh-TW">：</s></u>INR</i><i class="c19">Unknown</i></div>
<div class="r" style="top:1261px;height:15px;line-height:15px"><i class="c0">83</i><i class="c1 nm"><em class="f-tr"></em><span>Turkey 01</span></i><i class="c2">Shadowsocks</i><i class="c3 s" style="background:#ff8dbe">4.06MB</i><i class="c4 s" style="background:#ff74ac">6.44MB</i><i class="c5">395ms</i><i class="c6">1963ms</i><i class="c7 b"><u>未知</u></i><i class="c8 g"><u>解锁</u>(TR)</i><i class="c9 r"><u>失败</u></i><i class="c10 n"><u>失败</u></i><i class="c11 r"><u>失败</u></i><i class="c12 g"><u>解锁</u>(TR)</i><i class="c13">-</i><i class="c14 n">N/A</i><i class="c15 g"><u>解锁</u>(TR)</i><i class="c16 g"><u>解锁</u>(TR)</i><i class="c17 g"><u>允许注册</u>(TR)</i><i class="c18 g"><u>货币<s lang="zh-TW">：</s></u>USD</i><i class="c19">FullCone</i></div>
<div class="r" style="top:1276px;height:15px;line-height:15px"><i class="c0">84</i><i class="c1 nm"><em class="f-ua"></em><span>Ukraine 01</span></i><i class="c2">Shadowsocks</i><i class="c3 s" style="background:#ff90bb">3.94MB</i><i class="c4 s" style="background:#ff78af">6.02MB</i><i class="c5">397ms</i><i class="c6">1260ms</i><i class="c7 g"><u>解锁</u>(UA)</i><i class="c8 g"><u>解锁</u>(UA)</i><i class="c9 r"><u>失败</u></i><i class="c10 n"><u>失败</u></i><i class="c11 o"><u>待解锁</u>(UA)</i><i class="c12 g"><u>解锁</u>(UA)</i><i class="c13">-</i><i class="c14 n">N/A</i><i class="c15 g"><u>解锁</u>(UA)</i><i class="c16 r"><u>失败</u>(UA)</i><i class="c17 g"><u>允许注册</u>(UA)</i><i class="c18 g"><u>货币<s lang="zh-TW">：</s></u>UAH</i><i class="c19">Unknown</i></div>
<div class="r" style="top:1291px;height:15px;line-height:15px"><i class="c0">85</i><i class="c1 nm"><em class="f-ru"></em><span>Russia 01</span></i><i class="c2">Shadowsocks</i><i class="c3 s" style="background:#ff84b8">4.73MB</i><i class="c4 s" style="background:#ff72a9">6.83MB</i><i class="c5">385ms</i><i class="c6">1152ms</i><i class="c7 r"><u>失败</u></i><i class="c8 o"><u>送中</u>(CN)</i><i class="c9 r"><u>失败</u></i><i class="c10 n"><u>失败</u></i><i class="c11 r"><u>失败</u></i><i class="c12 g"><u>解锁</u>(RU)</i><i class="c13">-</i><i class="c14 n">N/A</i><i class="c15 g"><u>解锁</u>(RU)</i><i class="c16 r"><u>失败</u>(RU)</i><i class="c17 b"><u>未知</u></i><i class="c18 g"><u>货币<s lang="zh-TW">：</s></u>RUB</i><i class="c19">FullCone</i></div>
<div class="r" style="top:1306px;height:15px;line-height:15px"><i class="c0">86</i><i class="c1 nm"><em class="f-it"></em><span>Italy 01</span></i><i class="c2">Shadowsocks</i><i class="c3 s" style="background:#ffff30">673.61KB</i><i class="c4 s" style="background:#ffaa89">2.86MB</i><i class="c5">347ms</i><i class="c6">1077ms</i><i class="c7 b"><u>未知</u></i><i class="c8 g"><u>解锁</u>(IT)</i><i class="c9 r"><u>失败</u></i><i class="c10 g"><u>解锁</u></i><i class="c11 r"><u>失败</u></i><i class="c12 g"><u>解锁</u>(IT)</i><i class="c13">-</i><i class="c14 n">N/A</i><i class="c15 r"><u>失败</u></i><i class="c16 g"><u>解锁</u>(IT)</i><i class="c17 g"><u>允许注册</u>(IT)</i><i class="c18 g"><u>货币<s lang="zh-TW">：</s></u>EUR</i><i class="c19">FullCone</i></div>
<div class="r" style="top:1321px;height:15px;line-height:15px"><i class="c0">87</i><i class="c1 nm"><em class="f-fr"></em><span>France 01</span></i><i class="c2">Shadowsocks</i><i class="c3 s" style="background:#7dfc00">12.57KB</i><i class="c4 s" style="background:#7ffc00">41.89KB</i><i class="c5">331ms</i><i class="c6">1138ms</i><i class="c7 b"><u>未知</u></i><i class="c8 g"><u>解锁</u>(FR)</i><i class="c9 r"><u>失败</u></i><i class="c10 g"><u>解锁</u></i><i class="c11 r"><u>失败</u></i><i class="c12 g"><u>解锁</u>(FR)</i><i class="c13">-</i><i class="c14 n">N/A</i><i class="c15 g"><u>解锁</u>(FR)</i><i class="c16 g"><u>解锁</u>(FR)</i><i class="c17 g"><u>允许注册</u>(FR)</i><i class="c18 g"><u>货币<s lang="zh-TW">：</s></u>EUR</i><i class="c19">FullCone</i></div>
<div class="r" style="top:1336px;height:15px;line-height:15px"><i class="c0">88</i><i class="c1 nm"><em class="f-eg"></em><span>Egypt 01</span></i><i class="c2">Shadowsocks</i><i class="c3 s" style="background:#ffbe63">2.01MB</i><i class="c4 s" style="background:#ff77ae">6.16MB</i><i class="c5">431ms</i><i class="c6">1528ms</i><i class="c7 g"><u>解锁</u>(EG)</i><i class="c8 g"><u>解锁</u>(EG)</i><i class="c9 r"><u>失败</u></i><i class="c10 g"><u>解锁</u></i><i class="c11 o"><u>待解锁</u>(EG)</i><i class="c12 g"><u>解锁</u>(EG)</i><i class="c13">-</i><i class="c14 n">N/A</i><i class="c15 g"><u>解锁</u>(EG)</i><i class="c16 r"><u>失败</u>(EG)</i><i class="c17 g"><u>允许注册</u>(EG)</i><i class="c18 g"><u>货币<s lang="zh-TW">：</s></u>USD</i><i class="c19">FullCone</i></div>
<div class="r" style="top:1351px;height:15px;line-height:15px"><i class="c0">89</i><i class="c1 nm"><em class="f-cl"></em><span>Chile 01</span></i><i class="c2">Shadowsocks</i><i class="c3 s" style="background:#ffc15f">1.93MB</i><i class="c4 s" style="background:#ff83b8">4.78MB</i><i class="c5">379ms</i><i class="c6">1143ms</i><i class="c7 b"><u>未知</u></i><i class="c8 g"><u>解锁</u>(CA)</i><i class="c9 r"><u>失败</u></i><i class="c10 g"><u>解锁</u></i><i class="c11 r"><u>失败</u></i><i class="c12 g"><u>解锁</u>(CL)</i><i class="c13">-</i><i class="c14 n">N/A</i><i class="c15 g"><u>解锁</u>(CL)</i><i class="c16 g"><u>解锁</u>(CL)</i><i class="c17 g"><u>允许注册</u>(CL)</i><i class="c18 g"><u>货币<s lang="zh-TW">：</s></u>CLP</i><i class="c19">FullCone</i></div>
<div class="r" style="top:1366px;height:15px;line-height:15px"><i class="c0">90</i><i class="c1 nm"><em class="f-ng"></em><span>Nigeria 01</span></i><i class="c2">Shadowsocks</i><i class="c3 s" style="background:#82fc00">76.64KB</i><i class="c4 s" style="background:#8cfc00">205.35KB</i><i class="c5">652ms</i><i class="c6">1985ms</i><i class="c7 b"><u>未知</u></i><i class="c8 g"><u>解锁</u>(US)</i><i class="c9 r"><u>失败</u></i><i class="c10 g"><u>解锁</u></i><i class="c11 r"><u>失败</u></i><i class="c12 g"><u>解锁</u>(NG)</i><i class="c13">-</i><i class="c14 n">N/A</i><i class="c15 g"><u>解锁</u>(NG)</i><i class="c16 g"><u>解锁</u>(NG)</i><i class="c17 g"><u>允许注册</u>(NG)</i><i class="c18 g"><u>货币<s lang="zh-TW">：</s></u>USD</i><i class="c19">FullCone</i></div>
<div class="r" style="top:1381px;height:15px;line-height:15px"><i class="c0">91</i><i class="c1 nm"><em class="f-br"></em><span>Brazil 01</span></i><i class="c2">Shadowsocks</i><i class="c3 s" style="background:#ff92ba">3.90MB</i><i class="c4 s" style="background:#ff78af">6.02MB</i><i class="c5">396ms</i><i class="c6">1277ms</i><i class="c7 b"><u>未知</u></i><i class="c8 g"><u>解锁</u>(BR)</i><i class="c9 r"><u>失败</u></i><i class="c10 g"><u>解锁</u></i><i class="c11 r"><u>失败</u></i><i class="c12 g"><u>解锁</u>(BR)</i><i class="c13">-</i><i class="c14 n">N/A</i><i class="c15 g"><u>解锁</u>(BR)</i><i class="c16 g"><u>解锁</u>(BR)</i><i class="c17 g"><u>允许注册</u>(BR)</i><i class="c18 g"><u>货币<s lang="zh-TW">：</s></u>BRL</i><i class="c19">FullCone</i></div>
<div class="r" style="top:1396px;height:15px;line-height:15px"><i class="c0">92</i><i class="c1 nm"><em class="f-ae"></em><span>Dubai 01</span></i><i class="c2">Shadowsocks</i><i class="c3 s" style="background:#ff4668">12.95MB</i><i class="c4 s" style="background:#ff3853">15.33MB</i><i class="c5">187ms</i><i class="c6">702ms</i><i class="c7 b"><u>未知</u></i><i class="c8 g"><u>解锁</u>(AE)</i><i class="c9 r"><u>失败</u></i><i class="c10 n"><u>失败</u></i><i class="c11 r"><u>失败</u></i><i class="c12 g"><u>解锁</u>(AE)</i><i class="c13">-</i><i class="c14 n">N/A</i><i class="c15 g"><u>解锁</u>(AE)</i><i class="c16 g"><u>解锁</u>(AE)</i><i class="c17 g"><u>允许注册</u>(AE)</i><i class="c18 g"><u>货币<s lang="zh-TW">：</s></u>AED</i><i class="c19">FullCone</i></div>
<div class="r" style="top:1411px;height:15px;line-height:15px"><i class="c0">93</i><i class="c1 nm"><em class="f-md"></em><span>Moldova 01</span></i><i class="c2">Shadowsocks</i><i class="c3 s" style="background:#ffa8a1">3.27MB</i><i class="c4 s" style="background:#ff76ae">6.27MB</i><i class="c5">434ms</i><i class="c6">1360ms</i><i class="c7 g"><u>解锁</u>(MD)</i><i class="c8 g"><u>解锁</u>(MD)</i><i class="c9 r"><u>失败</u></i><i class="c10 g"><u>解锁</u></i><i class="c11 r"><u>失败</u></i><i class="c12 g"><u>解锁</u>(MD)</i><i class="c13">-</i><i class="c14 n">N/A</i><i class="c15 g"><u>解锁</u>(MD)</i><i class="c16 g"><u>解锁</u>(MD)</i><i class="c17 g"><u>允许注册</u>(MD)</i><i class="c18 g"><u>货币<s lang="zh-TW">：</s></u>USD</i><i class="c19">FullCone</i></div>
<div class="r" style="top:1426px;height:15px;line-height:15px"><i class="c0">94</i><i class="c1 nm"><em class="f-de"></em><span>Germany 01</span></i><i class="c2">Shadowsocks</i><i class="c3 s" style="background:#ff8fbc">3.96MB</i><i class="c4 s" style="background:#ff6ba3">7.66MB</i><i class="c5">290ms</i><i class="c6">849ms</i><i class="c7 b"><u>未知</u></i><i class="c8 g"><u>解锁</u>(DE)</i><i class="c9 r"><u>失败</u></i><i class="c10 n"><u>失败</u></i><i class="c11 r"><u>失败</u></i><i class="c12 g"><u>解锁</u>(DE)</i><i class="c13">-</i><i class="c14 n">N/A</i><i class="c15 g"><u>解锁</u>(DE)</i><i class="c16 g"><u>解锁</u>(DE)</i><i class="c17 g"><u>允许注册</u>(DE)</i><i class="c18 g"><u>货币<s lang="zh-TW">：</s></u>EUR</i><i class="c19">FullCone</i></div>
<div class="r" style="top:1441px;height:15px;line-height:15px"><i class="c0">95</i><i class="c1 nm"><em class="f-au"></em><span>Australia 01</span></i><i class="c2">Shadowsocks</i><i class="c3 s" style="background:#ff4a6d">12.36MB</i><i class="c4 s" style="background:#ff3e5c">14.30MB</i><i class="c5">228ms</i><i class="c6">765ms</i><i class="c7 g"><u>解锁</u>(AU)</i><i class="c8 g"><u>解锁</u>(AU)</i><i class="c9 r"><u>失败</u></i><i class="c10 n"><u>失败</u></i><i class="c11 g"><u>解锁</u>(AU)</i><i class="c12 g"><u>解锁</u>(AU)</i><i class="c13">-</i><i class="c14 n">N/A</i><i class="c15 g"><u>解锁</u>(AU)</i><i class="c16 g"><u>解锁</u>(AU)</i><i class="c17 g"><u>允许注册</u>(AU)</i><i class="c18 g"><u>货币<s lang="zh-TW">：</s></u>AUD</i><i class="c19">FullCone</i></div>
<div class="r" style="top:1456px;height:15px;line-height:15px"><i class="c0">96</i><i class="c1 nm"><em class="f-au"></em><span>Australia 02</span></i><i class="c2">Shadowsocks</i><i class="c3 s" style="background:#ff4667">12.99MB</i><i class="c4 s" style="background:#ff3a56">15.00MB</i><i class="c5">222ms</i><i class="c6">763ms</i><i class="c7 b"><u>未知</u></i><i class="c8 g"><u>解锁</u>(AU)</i><i class="c9 r"><u>失败</u></i><i class="c10 n"><u>失败</u></i><i class="c11 g"><u>解锁</u>(AU)</i><i class="c12 g"><u>解锁</u>(AU)</i><i class="c13">-</i><i class="c14 n">N/A</i><i class="c15 g"><u>解锁</u>(AU)</i><i class="c16 g"><u>解锁</u>(AU)</i><i class="c17 g"><u>允许注册</u>(AU)</i><i class="c18 g"><u>货币<s lang="zh-TW">：</s></u>AUD</i><i class="c19">Unknown</i></div>
<div class="r" style="top:1471px;height:15px;line-height:15px"><i class="c0">97</i><i class="c1 nm"><em class="f-au"></em><span>Australia 03</span></i><i class="c2">Shadowsocks</i><i class="c3 s" style="background:#ff6496">8.73MB</i><i class="c4 s" style="background:#ff3b58">14.77MB</i><i class="c5">220ms</i><i class="c6">824ms</i><i class="c7 g"><u>解锁</u>(AU)</i><i class="c8 g"><u>解锁</u>(AU)</i><i class="c9 r"><u>失败</u></i><i class="c10 n"><u>失败</u></i><i class="c11 g"><u>解锁</u>(AU)</i><i class="c12 g"><u>解锁</u>(AU)</i><i class="c13">-</i><i class="c14 n">N/A</i><i class="c15 g"><u>解锁</u>(AU)</i><i class="c16 g"><u>解锁</u>(AU)</i><i class="c17 g"><u>允许注册</u>(AU)</i><i class="c18 g"><u>货币<s lang="zh-TW">：</s></u>AUD</i><i class="c19">FullCone</i></div>
<div class="r" style="top:1486px;height:15px;line-height:15px"><i class="c0">98</i><i class="c1 nm"><em class="f-au"></em><span>Australia 04</span></i><i class="c2">Shadowsocks</i><i class="c3 s" style="background:#ff496c">12.45MB</i><i class="c4 s" style="background:#ff3c59">14.61MB</i><i class="c5">225ms</i><i class="c6">773ms</i><i class="c7 g"><u>解锁</u>(AU)</i><i class="c8 g"><u>解锁</u>(AU)</i><i class="c9 r"><u>失败</u></i><i class="c10 n"><u>失败</u></i><i class="c11 g"><u>解锁</u>(AU)</i><i class="c12 g"><u>解锁</u>(AU)</i><i class="c13">-</i><i class="c14 n">N/A</i><i class="c15 g"><u>解锁</u>(AU)</i><i class="c16 g"><u>解锁</u>(AU)</i><i class="c17 g"><u>允许注册</u>(AU)</i><i class="c18 g"><u>货币<s lang="zh-TW">：</s></u>AUD</i><i class="c19">FullCone</i></div>
<div class="r" style="top:1501px;height:15px;line-height:15px"><i class="c0">99</i><i class="c1 nm"><em class="f-es"></em><span>Spain 01</span></i><i class="c2">Shadowsocks</i><i class="c3 s" style="background:#ff7cb3">5.51MB</i><i class="c4 s" style="background:#ff6ea5">7.38MB</i><i class="c5">373ms</i><i class="c6">1147ms</i><i class="c7 b"><u>未知</u></i><i class="c8 g"><u>解锁</u>(ES)</i><i class="c9 r"><u>失败</u></i><i class="c10 g"><u>解锁</u></i><i class="c11 r"><u>失败</u></i><i class="c12 g"><u>解锁</u>(ES)</i><i class="c13">-</i><i class="c14 n">N/A</i><i class="c15 g"><u>解锁</u>(ES)</i><i class="c16 g"><u>解锁</u>(ES)</i><i class="c17 g"><u>允许注册</u>(ES)</i><i class="c18 g"><u>货币<s lang="zh-TW">：</s></u>EUR</i><i class="c19">FullCone</i></div>
<div class="r" style="top:1516px;height:15px;line-height:15px"><i class="c0">100</i><i class="c1 nm"><em class="f-ca"></em><span>Canada 01</span></i><i class="c2">Shadowsocks</i><i class="c3 s" style="background:#ff83b8">4.79MB</i><i class="c4 s" style="background:#ff73ab">6.64MB</i><i class="c5">354ms</i><i class="c6">1086ms</i><i class="c7 b"><u>未知</u></i><i class="c8 g"><u>解锁</u>(CA)</i><i class="c9 r"><u>失败</u></i><i class="c10 n"><u>失败</u></i><i class="c11 r"><u>失败</u></i><i class="c12 g"><u>解锁</u>(CA)</i><i class="c13">-</i><i class="c14 n">N/A</i><i class="c15 g"><u>解锁</u>(CA)</i><i class="c16 g"><u>解锁</u>(CA)</i><i class="c17 g"><u>允许注册</u>(CA)</i><i class="c18 g"><u>货币<s lang="zh-TW">：</s></u>CAD</i><i class="c19">Unknown</i></div>
<div class="r" style="top:1531px;height:15px;line-height:15px"><i class="c0">101</i><i class="c1 nm"><em class="f-se"></em><span>Sweden 01</span></i><i class="c2">Shadowsocks</i><i class="c3 s" style="background:#ff7fb5">5.12MB</i><i class="c4 s" style="background:#ff6fa7">7.14MB</i><i class="c5">327ms</i><i class="c6">1017ms</i><i class="c7 b"><u>未知</u></i><i class="c8 g"><u>解锁</u>(SE)</i><i class="c9 r"><u>失败</u></i><i class="c10 g"><u>解锁</u></i><i class="c11 r"><u>失败</u></i><i class="c12 g"><u>解锁</u>(SE)</i><i class="c13">-</i><i class="c14 n">N/A</i><i class="c15 g"><u>解锁</u>(SE)</i><i class="c16 g"><u>解锁</u>(SE)</i><i class="c17 g"><u>允许注册</u>(SE)</i><i class="c18 g"><u>货币<s lang="zh-TW">：</s></u>EUR</i><i class="c19">FullCone</i></div>
<div class="r" style="top:1546px;height:15px;line-height:15px"><i class="c0">102</i><i class="c1 nm"><em class="f-ar"></em><span>Argentina 01</span></i><i class="c2">Shadowsocks</i><i class="c3 s" style="background:#ffb080">2.51MB</i><i class="c4 s" style="background:#ff85b9">4.64MB</i><i class="c5">493ms</i><i class="c6">1507ms</i><i class="c7 b"><u>未知</u></i><i class="c8 g"><u>解锁</u>(CA)</i><i class="c9 r"><u>失败</u></i><i class="c10 g"><u>解锁</u></i><i class="c11 r"><u>失败</u></i><i class="c12 g"><u>解锁</u>(AR)</i><i class="c13">-</i><i class="c14 n">N/A</i><i class="c15 g"><u>解锁</u>(AR)</i><i class="c16 g"><u>解锁</u>(AR)</i><i class="c17 g"><u>允许注册</u>(AR)</i><i class="c18 g"><u>货币<s lang="zh-TW">：</s></u>USD</i><i class="c19">FullCone</i></div>
<div class="r" style="top:1561px;height:15px;line-height:15px"><i class="c0">103</i><i class="c1 nm"><em class="f-nl"></em><span>Netherlands 01</span></i><i class="c2">Shadowsocks</i><i class="c3 s" style="background:#97fb03">240.80KB</i><i class="c4 s" style="background:#a5fa07">288.00KB</i><i class="c5">322ms</i><i class="c6">1012ms</i><i class="c7 b"><u>未知</u></i><i class="c8 g"><u>解锁</u>(NL)</i><i class="c9 r"><u>失败</u></i><i class="c10 g"><u>解锁</u></i><i class="c11 r"><u>失败</u></i><i class="c12 g"><u>解锁</u>(NL)</i><i class="c13">-</i><i class="c14 n">N/A</i><i class="c15 g"><u>解锁</u>(NL)</i><i class="c16 g"><u>解锁</u>(NL)</i><i class="c17 g"><u>允许注册</u>(NL)</i><i class="c18 g"><u>货币<s lang="zh-TW">：</s></u>EUR</i><i class="c19">FullCone</i></div>
<div class="r" style="top:1576px;height:15px;line-height:15px"><i class="c0">104</i><i class="c1 nm"><em class="f-gb"></em><span>United Kingdom 01</span></i><i class="c2">Shadowsocks</i><i class="c3 s" style="background:#ff87ba">4.50MB</i><i class="c4 s" style="background:#ff6ba3">7.67MB</i><i class="c5">308ms</i><i class="c6">942ms</i><i class="c7 b"><u>未知</u></i><i class="c8 g"><u>解锁</u>(GB)</i><i class="c9 r"><u>失败</u></i><i class="c10 n"><u>失败</u></i><i class="c11 r"><u>失败</u></i><i class="c12 g"><u>解锁</u>(GB)</i><i class="c13">-</i><i class="c14 n">N/A</i><i class="c15 g"><u>解锁</u>(GB)</i><i class="c16 g"><u>解锁</u>(GB)</i><i class="c17 g"><u>允许注册</u>(GB)</i><i class="c18 g"><u>货币<s lang="zh-TW">：</s></u>GBP</i><i class="c19">FullCone</i></div>
<div class="bj">北<br>京<br>联<br>通</div>
<div class="wm" style="left:557px;top:1602px">DuYao</div>
<div class="wm" style="left:557px;top:1522px">DuYao</div>
<div class="wm" style="left:557px;top:1442px">DuYao</div>
<div class="wm" style="left:557px;top:1362px">DuYao</div>
<div class="wm" style="left:557px;top:1282px">DuYao</div>
<div class="wm" style="left:557px;top:1202px">DuYao</div>
<div class="wm" style="left:557px;top:1122px">DuYao</div>
<div class="wm" style="left:557px;top:1042px">DuYao</div>
<div class="wm" style="left:557px;top:962px">DuYao</div>
<div class="wm" style="left:557px;top:882px">DuYao</div>
<div class="wm" style="left:557px;top:802px">DuYao</div>
<div class="wm" style="left:557px;top:722px">DuYao</div>
<div class="wm" style="left:557px;top:642px">DuYao</div>
<div class="wm" style="left:557px;top:562px">DuYao</div>
<div class="wm" style="left:557px;top:482px">DuYao</div>
<div class="wm" style="left:557px;top:402px">DuYao</div>
<div class="wm" style="left:557px;top:322px">DuYao</div>
<div class="wm" style="left:557px;top:242px">DuYao</div>
<div class="wm" style="left:557px;top:162px">DuYao</div>
<div class="wm" style="left:557px;top:82px">DuYao</div>
<div class="ft" id="f1" style="top:1592px;line-height:15px"><b class="ck">✓</b><u>已核实</u> TLS <u>证书。</u>TLS RTT <u>为单次数据交换延迟，</u> HTTPS Ping <u>为单次请求体感延迟。</u></div>
<div class="ft" id="f2" style="top:1607px;line-height:15px"><u>主端</u>=4.3.3 (697) <u>喵速</u>=4.3.6-Meta (A-<u>北京联通</u>-<u>单线程</u>@1000M), <u>线程</u>=1 <u>概要</u>=104/104 <u>排序</u>=<u>订阅原序</u> <u>过滤器</u>=</div>
<div class="ft" id="f3" style="top:1622px;line-height:15px"><u>测试时间<s lang="zh-TW">：</s></u>2024-05-05 22:01:14 (CST)<u>，本测试为试验性结果，仅供参考。</u></div>
</body></html>
